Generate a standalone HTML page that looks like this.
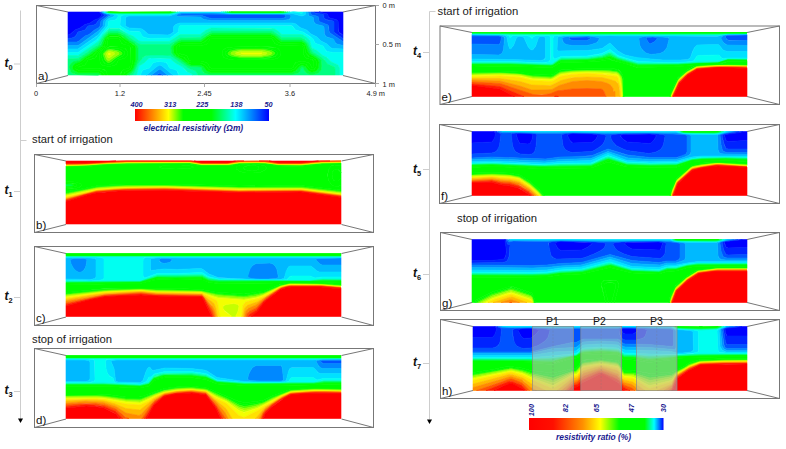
<!DOCTYPE html><html><head><meta charset="utf-8"><style>html,body{margin:0;padding:0;background:#fff;}svg{display:block;}</style></head><body>
<svg width="786" height="449" viewBox="0 0 786 449" font-family='"Liberation Sans", sans-serif'>
<rect width="786" height="449" fill="#fff"/>
<g transform="translate(68 12)"><path fill="#0000ff" stroke="#0000ff" stroke-width="0.6" fill-rule="evenodd" d="M1 0 31.5 0 34 3 32.5 5 31 6.5 26.5 8 22 11 17 12.5 12 16 7 18 2.5 22 0 23 0 0ZM251 0 275 0 275 23 271 20 270 9 268 7.5 262 6 260.5 5 259.5 2Z"/><path fill="#0023ff" stroke="#0023ff" stroke-width="0.6" fill-rule="evenodd" d="M32 0 37 3 30 9 28 12 26 13 20 14 17 18 10 20 8 23.5 6.5 25 4 26 0 26.5 0 23 2.5 22 7 18 12 16 17 12.5 22 11 26.5 8 31.5 6 34 3 31.5 0ZM246 0 251 0 259 2 260 3 260.5 5 262 6 268 7.5 270 9 270.5 10 270.5 19 271.5 21 275 23 275 26.5 269 22.5 266 20 266 10 265 9 258 7.5 256 6 255.5 3 255 2.5 247 1Z"/><path fill="#0053ff" stroke="#0053ff" stroke-width="0.6" fill-rule="evenodd" d="M33 0 40.5 3 33 9 32 14 31 15.5 26.5 18 21 22.5 17 24 11 29 9 30 0 30 0 26.5 4 26 6.5 25 8 23.5 10 20 17 18 20 14 26 13 28 12 30 9 37 3 33.5 1 32.5 0ZM243 0 246 0 248 1.5 254 2 255.5 3 256 6 257 7 259 8 265 9 266 10 266 20 269 22.5 275 26.5 275 29.5 262 21 261 19 261 15 260 13 252 10 251 9 250.5 5 248.5 4 244 3 243 2 242.5 0ZM114 2 213 2.5 217 3 217.5 4 217.5 5 216 6 213 6.5 144 6.5 141 6 134 3.5 112.5 3 113 2ZM90 62 92 61 94.5 63 89 63Z"/><path fill="#0088ff" stroke="#0088ff" stroke-width="0.6" fill-rule="evenodd" d="M34 0 37 1.5 41 2 43.5 3 40 5 35.5 9 35 14 31 18.5 11 33 9 33.5 0 33.5 0 30 9 30 11 29 17 24 21 22.5 26.5 18 31 15.5 32 14 33 9 40.5 3 35 1 33.5 0ZM240 0 242.5 0 243 2 244 3 248.5 4 250.5 5 251 9 252.5 10 260 13 260.5 14 261 19 262 21 275 29.5 275 33.5 269 32 267.5 31 265 27 258 24.5 256.5 22 256 15 255 14 249 12.5 247 11.5 245.5 9 245.5 6 244.5 5 241 4 240.5 3ZM110 2 113 1 150 1 163 2 215 2 221 2.5 222.5 3 223 4 222.5 6 221 7.5 215 8.5 143 8.5 136 7.5 132 5 110 4.5 109 4 108 3ZM113.5 2 112.5 3 134 3.5 141 6 144 6.5 213 6.5 216 6 217.5 5 217.5 4 217 3 213 2.5ZM90 58 92 57 93 57.5 99.5 63 94.5 63 92 61 91 61 89 63 83.5 63Z"/><path fill="#00b9ff" stroke="#00b9ff" stroke-width="0.6" fill-rule="evenodd" d="M35 0 38 1 44.5 2 47 3 45 5 41 6.5 38 9 37.5 14 30 23 10 37 0 37 0 33.5 9 33.5 11 33 31 18.5 35 14 35.5 9 40 5 43.5 3 41 2 37 1.5 34 0ZM111 1 151 0.5 163 1.5 224 1.5 234 4 236.5 3 237.5 2 237.5 0 240 0 240.5 3 241 4 244.5 5 245.5 6 245.5 9 247 11.5 249 12.5 255 14 256 15 256 21 257.5 24 260 25.5 265.5 27 267.5 31 269 32 275 33.5 275 37 264 36.5 262 35 259 32 253 29 249 25 243 22 238.5 18 232 15.5 228 12 224 11 112 11 109 12 107 13 105.5 15 105.5 20 102 22.5 100 23 82 22.5 80 22 76 18.5 74 17 71 16.5 61 16 57.5 14 57.5 13 57.5 6 58 5 60 4 101 4ZM109.5 2 108 3 109 4 111 5 132 5 136 7.5 143 8.5 215 8.5 221 7.5 222.5 6 223 4 222.5 3 221 2.5 215 2 163 2 143 1 113 1ZM90 53.5 92 53 94 54 105 63 99.5 63 92 57 90 58 83.5 63 78.5 63Z"/><path fill="#00e1ff" stroke="#00e1ff" stroke-width="0.6" fill-rule="evenodd" d="M36 0 40 1.5 47.5 2 50 3 50 5 48.5 7 47 8 41 9 40.5 10 40 14 29 27.5 10 40.5 0 40.5 0 37 10 37 29 24 37.5 14 38 9 41 6.5 45 5 47 3 44.5 2 38 1 35 0ZM109 1 111.5 0 153 0 163 1.5 213 1.5 220.5 1 225 0 230 0.5 234 1.5 234.5 0 237.5 0 237.5 2 236.5 3 234 4 224 1.5 164 1.5 152 0.5 114 0.5 112 0.5 101 4 61 4 58 5 57.5 6 57.5 13 57.5 14 61 16 71 16.5 74 17 76 18.5 80 22 82 22.5 100 23 102 22.5 105.5 20 105.5 15 107 13 109 12 112 11 224 11 228 12 232 15.5 238.5 18 243 22 249 25 253 29 259 32 262 35 264 36.5 275 37 275 40.5 265 40.5 259 39.5 257.5 38 255 34 248 31.5 247 31 245 27 241.5 24 235 20 227.5 18 224.5 14 223 13.5 113 13.5 111.5 14 111 15 110.5 20 102 26 83 26.5 79 26 75.5 25 74 24 72 20 71 19.5 61 19 54 15 52 13 52.5 5 53 4 55 3 62 2.5 101 2.5ZM88 50 93 49.5 98 50.5 99.5 52 101.5 56 107 57.5 109 59 110.5 63 105 63 94 54 92 53 89 54.5 78.5 63 72.5 63 73.5 60 75 58 81.5 56 85 51Z"/><path fill="#00fff1" stroke="#00fff1" stroke-width="0.6" fill-rule="evenodd" d="M37 0 41 1 52 2 101 2 111.5 0 101 2.5 61 3 56 3 53 4 52 6 52 13 52.5 14 61 19 72 20 75 25 81 26.5 102 26 110.5 20 111 15 111.5 14 113 13.5 224 14 227.5 18 235 20 244 26 245 27 247 31 248 31.5 255 34 257.5 38 259 39.5 265 40.5 275 40.5 275 63 271.5 63 271.5 56 270 53 268 52 263.5 50 259 45.5 254 43 249 38.5 245 36.5 243.5 35 241.5 28 236 23.5 233 22.5 214 22.5 208 17.5 203 16 143 16 138 18 132 22.5 112 22.5 101 29.5 83 29.5 72 29.5 69.5 28 65 24 61 22.5 52 16.5 50 16 42 16 40 17 35.5 22 30 30 11 43 9 43.5 0 43.5 0 40.5 10 40.5 29 27.5 40 14 40.5 10 41 9 47 8 48.5 7 50 5 50 3 47.5 2 40 1.5 36 0ZM154 0 166 1 214 1 222 0 234.5 0 234 1.5 230 0.5 226 0 214 1.5 165 1.5 158.5 1 153 0ZM80 47 83 46 102 46.5 108 51.5 112 53.5 114.5 55 118 59 123 61.5 125 63 110.5 63 110 60 108 58 101.5 56 99.5 52 98 50.5 92 49.5 88 50 85 51 81.5 56 76 57.5 74 59 72.5 63 68.5 63 71 54 76 51Z"/><path fill="#00ffb8" stroke="#00ffb8" stroke-width="0.6" fill-rule="evenodd" d="M37 0 41 1 52 1.5 101 1.5 110 0 101 2 52 2 41 1ZM156 0 166 1 213 1 222 0 216 1 207 1 163 1 155 0ZM41 16.5 51 16.5 61 22.5 65 24 71 29 74 29.5 101 29.5 112 22.5 132 22.5 138 18 143 16 205 16.5 208 17.5 214 22.5 233 22.5 235 23 238 25 241.5 28 243.5 35 245 36.5 249 38.5 254 43 259 45.5 263.5 50 268 52 270 53 271.5 56 271.5 63 267 63 267 57 266.5 55 259.5 52 256.5 48 253 45 245 40 243 37 240 30.5 237 27.5 233 25.5 214 25.5 209 21.5 203 19 143 19 137 22 132 25.5 112 26 101 32.5 74 32.5 71 32 57 22 52 19.5 50 19 42 19 40 19.5 36 23.5 30 33 24 36.5 19 40.5 10 46.5 0 47 0 43.5 10 43.5 29 30.5 31 28.5 35 22.5ZM81 43 100 43 102 43.5 121 56.5 127.5 59 129 61 130 63 125 63 123 61.5 119 59.5 114.5 55 112 53.5 108 51.5 102 46.5 92 46 82 46 80 47 76 51 71 54 68.5 63 64.5 63 67 59.5 70 52 75 45.5 77.5 44Z"/><path fill="#00ff80" stroke="#00ff80" stroke-width="0.6" fill-rule="evenodd" d="M38 0 53 1 101 1 108 0 101 1.5 52 1.5 41 1ZM158 0 166 0.5 213 0.5 220 0 215 1 207 1 164 1 157 0ZM42 19 50 19 52 19.5 57 22 71 32 74 32.5 101 32.5 112 26 132 25.5 137 22 143 19 204 19 209.5 22 214 25.5 233 25.5 237 27.5 240 30.5 243 37 245 40 253 45 256.5 48 259.5 52 266.5 55 267 57 267 63 130 63 129 61 127.5 59 121 56.5 102 43.5 95 43 82 43 77 44 75 45.5 70 52 67 59.5 65 62.5 64.5 63 61 63 64 60.5 65.5 58 70 48 70 35 69 33.5 67 31.5 61 28 55 23 51 21 47 21 42 21 40 21.5 36 26 32 34 25.5 38 20.5 42 15.5 45 11 48.5 3.5 51 1.5 54 1.5 56 2.5 59 4 61 6 62 10 62.5 30.5 63 0 63 0 47 10 46.5 19 40.5 24 36.5 30 33 36 23.5 40 19.5ZM140.5 22 132 28 113 28 110 29 106 31.5 103.5 34 103 36 103.5 41 106 44 112.5 48 119 53 123 54.5 132.5 55 133.5 56 134.5 59 136 60.5 138 61.5 142 62.5 224 62.5 230 61 231.5 60 233 56 234 55.5 235.5 56 236.5 59 238.5 61 242 62.5 245 62.5 250.5 61 253 58 253.5 54 253 48 249.5 45 243 41 239 32 237 30 234 28 214 28 207.5 23 203 21 144 21Z"/><path fill="#00ff40" stroke="#00ff40" stroke-width="0.6" fill-rule="evenodd" d="M39 0 53 0.5 101 0.5 106.5 0 101 1 53 1 41 0.5ZM159 0 166 0.5 218 0 207 0.5 164 0.5ZM40 21.5 42 21 50 21 52 21.5 56.5 24 61 28 66.5 31 69.5 34 70 36 70 48 66 57.5 64 60.5 61 63 58 63 63 59 65 55 67.5 48 67.5 35 66 33 59 28.5 54 24.5 51 23 49 23 42 23 40 23.5 37 27 34.5 34 22 43 17 46 12 50 6 53 4.5 55 4.5 56 5.5 58 10 60.5 30 60.5 32 61.5 33.5 63 10 62.5 5 61.5 3 60 1.5 56 1.5 54 3 51.5 5 50 11 48.5 15.5 45 20.5 42 25.5 38 31 34.5 33 32.5 36 26ZM141 22 144 21 203 21 207.5 23 214 28 234 28 237 30 239 32 243 41 249.5 45 253 48 253.5 54 253 58 250.5 61 245 62.5 242 62.5 238.5 61 236.5 59 235.5 56 234 55.5 233 56 231.5 60 230 61 224 62.5 142 62.5 138 61.5 136 60.5 134.5 59 133.5 56 132.5 55 123 54.5 119 53 112.5 48 106 44 103.5 41 103 36 103.5 34 106 31.5 110 29 113 28 132 28ZM142.5 23 139 25 134 29 132 30 113 30 111 30.5 106 34 105.5 36 106 41 108 43.5 114 47 121 52 123 53 133 53 135.5 55 139 59 143 60.5 224 60.5 228 58.5 231 55 234 53 237 54.5 241 59 243 60 245 60 248 59 250.5 56 251 50 250 48 248 46 241.5 42 240 40 237.5 33 236 31 234 30 214 30 212 29 206 24 203 23Z"/><path fill="#00ff00" stroke="#00ff00" stroke-width="0.6" fill-rule="evenodd" d="M40 0 53 0.5 104.5 0 101 0.5 53 0.5ZM161 0 166 0 216 0 207 0.5ZM41 23 50 23 52 23.5 67 34 67.5 36 67.5 48 65 56 63 59 58 63 55 63 57 60.5 62 57.5 63.5 55 65 48 65 35 63 33 57 30 52 25 49 24.5 42 24.5 40 25.5 38.5 27 36.5 34 28.5 40 24.5 44 19 46.5 14.5 51 9 53.5 7 55 7 56 8 57 11 58.5 31 58.5 34 60 36.5 63 33.5 63 32 61.5 30 60.5 10 60.5 5.5 58 4.5 56 5 54 7 52 12 50 17 46 22 43 34.5 34 37 27 39 24.5ZM143 23 203 23 206 24 212 29 214 30 234 30 236 31 237.5 33 240 40 241.5 42 248 46 250 48 251 50 250.5 56 248 59 245 60 243 60 241 59 237 54.5 234 53 231 55 228 58.5 224 60.5 143 60.5 139 59 135.5 55 133 53 123 53 121 52 114 47 108 43.5 106 41 105.5 36 106 34 111 30.5 113 30 132 30 134 29 139 25ZM142 25 136.5 30 133 31.5 111.5 32 109 34 108.5 35 108.5 41 111 43.5 116 45.5 121 50.5 123 51 132 51 134 51.5 137 53 140.5 57 143 58.5 223 58.5 226.5 57 230 53 234 51 238 52.5 242 57 244 58 246 57.5 248 55 248.5 50 247.5 48 245 46 241 44.5 239 42.5 237.5 40 236.5 34 234 32 213 31.5 210 30 206 26 203 24.5 145 24.5Z"/><path fill="#00ff00" stroke="#00ff00" stroke-width="0.6" fill-rule="evenodd" d="M42 0 43 0 103 0 53 0.5 41.5 0ZM164 0 165 0 213.5 0 207 0 163 0ZM41 25 51 25 53 26 57 30 62 32 64.5 34 65 36 65 48 63.5 55 62 57.5 57 60.5 55 63 52.5 63 54 59 56 57.5 61 56 61.5 55 62.5 48 62.5 36 61.5 34 55 32 53.5 31 51.5 27 49 26.5 41 26.5 40 28 39 34 31 40 27 46 20 48 17 53 10.5 55 10.5 56 11 56 30 56.5 34 57 38 59 39.5 63 36.5 63 34 60 31 58.5 11 58.5 8 57 7 56 7 55 8 54 14 51 18.5 47 24.5 44 28.5 40 36.5 34 38.5 27ZM142 25 145 24.5 203 24.5 206 26 210 30 213 31.5 234 32 236.5 34 237.5 40 239 42.5 241 44.5 245 46 247.5 48 248.5 50 248 55 246 57.5 244 58 242 57 238 52.5 234 51 230 53 226.5 57 223 58.5 143 58.5 140.5 57 137 53 134 51.5 132 51 123 51 121 50.5 116 45.5 111 43.5 108.5 41 108.5 35 109 34 111.5 32 133 31.5 136.5 30ZM142 27 140 31 138 32.5 136 33 132 33.5 112 33.5 111 35 111 41 112.5 42 117 43 119 44 121 48 122.5 49 133 49 138 50.5 140 52 142 55.5 144 56.5 223 56.5 225 55.5 226.5 52 228 50.5 234 49 240 50.5 242 52 244 55.5 245.5 55 245.5 49 244 47.5 239 46.5 237 45 235.5 42 235 35 234 34 214 33.5 210 33 207 31.5 204 27 203 26.5 145 26.5Z"/><path fill="#00ff00" stroke="#00ff00" stroke-width="0.6" fill-rule="evenodd" d="M41 26.5 51 26.5 52 28 53.5 31 55 32 61 33.5 62 34.5 62.5 48 62 54 61 56 55 58 53 60 52.5 63 39.5 63 38 59 36 57.5 34 57 30 56.5 10.5 56 10.5 55 17 53 20 48 26 46.5 28 45 29.5 42 31 40 39 34 40 28ZM40.5 35 34 39 31.5 42 32 50 33 52 35 53.5 41 54.5 46 53.5 48.5 52 50.5 48 57 46 59 44 59.5 42 59.5 40 58.5 38 57 36.5 51 35 42 34.5ZM143 26.5 203 26.5 204 27 207 31.5 210 33 214 33.5 234 34 235 35 235.5 42 237 45 239 46.5 244 47.5 245.5 49 245.5 55 244 55.5 242 52 240 50.5 234 49 228 50.5 226.5 52 225 55.5 223 56.5 144 56.5 142 55.5 140 52 138 50.5 133 49 122.5 49 121 48 119 44 117 43 112.5 42 111 41 111 35 112 33.5 132 33.5 136 33 139 32 142 27ZM164.5 35 158 36 155 38 154.5 40 154 42 156 45.5 160 47 166 48 203 47.5 207 47 210 46 212 44 212.5 42 212 39 210.5 37 208.5 36 205 35 193 34.5Z"/><path fill="#00ff00" stroke="#00ff00" stroke-width="0.6" fill-rule="evenodd" d="M41 35 52 35 57 36.5 58.5 38 59.5 40 59.5 42 59 44 57 46 50.5 48 48.5 52 46 53.5 41 54.5 35 53.5 33 52 32 50 31.5 42 33 40 35 38ZM39 37 34 40.5 33 43 35 49.5 37 51.5 40 52.5 42 52.5 44 51.5 49 47 55 44 56.5 42 57 41 56 39.5 52 37 42 36ZM165 35 193 34.5 206 35.5 209 36 211 37.5 212.5 40 212.5 42 212 44 210 46 207 47 203 47.5 166 48 160 47 156 45.5 154 42 154.5 40 155 38 158 36ZM172.5 36 164 37 161 37.5 157.5 40 157 42 159 44 163 45.5 177 46.5 194 46.5 203 46 207 44.5 209.5 42 209 40 208 39 203 37 193 36Z"/><path fill="#00ff00" stroke="#00ff00" stroke-width="0.6" fill-rule="evenodd" d="M173 36 193 36 203 37 208 39 209 40 209.5 42 207.5 44 204 45.5 190 46.5 173 46.5 164 46 160 44.5 157 42 157.5 40 161 37.5 164 37ZM166.5 38 161 40 160 41 160 42 163 44 172 45.5 193 45.5 203.5 44 206 42.5 207 41 205 39.5 203 38.5 194 37 174 37ZM39 37 42 36 52 37 56 39.5 57 41 56.5 42 55 44 49 47 44 51.5 42 52.5 40 52.5 37 51.5 35 49.5 33 43 33.5 41 34.5 40ZM39 38 36.5 40 35 42 37 48 40 50.5 42.5 50 47.5 46 54 42 54 41 53 40 50 38.5 42 37Z"/><path fill="#4bff00" stroke="#4bff00" stroke-width="0.6" fill-rule="evenodd" d="M40 37.5 43 37.5 51 39 53 40 54 41 54 42 47.5 46 42.5 50 40 50.5 37 48 35 42 36.5 40ZM39.5 39 37 41 36.5 42 38.5 47 40 48.5 41 48.5 51 42 51 41 49.5 40 44 38.5 41 38.5ZM167 38 174 37 194 37 203 38.5 205 39.5 207 41 206 42.5 203.5 44 193 45.5 172 45.5 163 44 160 42 160 41 162 39ZM168.5 39 164 40 163 41 163 42 167 43.5 173 44.5 193 44.5 201 43 203.5 42 204 41 201 39.5 193 38 174 38Z"/><path fill="#96ff00" stroke="#96ff00" stroke-width="0.6" fill-rule="evenodd" d="M40 38.5 42 38.5 45.5 39 49.5 40 51 41 51 42 41 48.5 40 48.5 38.5 47 36.5 42 37 41ZM40 40 38.5 42 39.5 45 41 46 46.5 42 46.5 41 44 40 41 39.5ZM169 39 174 38 193 38 201 39.5 204 41 203.5 42 201 43 193 44.5 173 44.5 167 43.5 163 42 163 41 164 40ZM170 40 167.5 41 168 42 174 43.5 193 43.5 198.5 42 199 41 193 39.5 174 39.5Z"/><path fill="#c5ff00" stroke="#c5ff00" stroke-width="0.6" fill-rule="evenodd" d="M40 40 41 39.5 44 40 46.5 41 46.5 42 41 46 39.5 45 38.5 42 38.5 41ZM41 41 40.5 42 41 43 42.5 42ZM171 40 174 39.5 193 39.5 199 41 198.5 42 195 43 190 43.5 173 43 168 42 167.5 41ZM172.5 41 174 41.5 177 42 192 42 194 41Z"/><path fill="#f3ff00" stroke="#f3ff00" stroke-width="0.6" fill-rule="evenodd" d="M41 41 42.5 42 41 43 40.5 42ZM173 41 192 41 194 41 192 42 176 42 174 41.5Z"/></g>
<g transform="translate(66 161)"><path fill="#00ff40" stroke="#00ff40" stroke-width="0.6" fill-rule="evenodd" d="M1 23 5.5 23 7.5 24 7 25 5 25.5 0 25.5 0 23Z"/><path fill="#00ff00" stroke="#00ff00" stroke-width="0.6" fill-rule="evenodd" d="M181 5 185 4.5 189 4.5 192 5.5 193 7 192.5 8 190 9.5 186 10 182 9.5 179 8.5 177.5 7 178 6ZM268 9 270 8 272 8.5 275 11.5 275 17 272 20 269 20 267.5 19 266.5 17 266 13 266.5 11ZM1 22 8 22.5 10 23 11 24 10.5 25 8 26 0 26.5 0 25.5 5 25.5 7 25 7.5 24 5 23 0 23 0 22Z"/><path fill="#00ff00" stroke="#00ff00" stroke-width="0.6" fill-rule="evenodd" d="M174 4 185 3 195 4 199 5 200.5 7 199 9 194 11.5 187 12 180 12 174 10.5 170.5 8 170.5 6 171.5 5ZM180 5 178 6 177.5 7 179 8.5 182 9.5 186 10 190 9.5 192.5 8 193 7 192 5.5 189 4.5 184 4.5ZM268 4 275 4.5 275 11.5 273 9 270 8 267 10 266 13 266.5 17 267.5 19 269 20 272 20 275 17 275 24 272 25.5 269 25.5 266 24 263.5 21 262 17 262 12 263 8 265 5ZM96 5 105 4 115 4 125 5 127.5 6 125.5 7 122 7.5 110 8 98 7.5 95 7 93 6ZM1 20.5 7 20.5 12 21.5 15 23 15.5 24 15 25 13 26.5 9 27.5 0 28 0 26.5 8 26 10.5 25 11 24 10 23 7 22 0 22 0 20.5Z"/><path fill="#00ff00" stroke="#00ff00" stroke-width="0.6" fill-rule="evenodd" d="M81 3 124 3 136 5 159 5 163 5 172 3 188 2.5 200.5 3 213 5 234 5.5 256 3 275 3 275 4.5 269 4 267 4 265 5 262.5 9 261.5 14 262.5 19 265 23 267 24.5 270 25.5 272 25.5 275 24 275 29 235 24.5 173 25 125 23.5 62 23 32 24.5 15 28 0 30.5 0 28 6 28 11 27 14 26 15 25 15.5 24 14 22.5 11 21.5 6 20.5 0 20.5 0 6 22 5.5 42 3.5ZM174 4 170.5 6 170.5 8 174 10.5 180 12 187 12 194 11.5 199 9 200.5 7 199 5 195 4 185 3ZM95.5 5 93 6 95 7 98 7.5 110 8 122 7.5 125.5 7 127.5 6 125 5 115 4 104 4.5Z"/><path fill="#00ff00" stroke="#00ff00" stroke-width="0.6" fill-rule="evenodd" d="M42 3 124 2.5 136 4.5 160 4.5 173 2.5 187 2 200 2.5 213 4.5 234 4.5 255 2.5 275 2.5 275 3 256 3 235 5.5 213 5 200.5 3 189 2.5 172 3 163 5 158 5 136 5 125 3 99 3 42 3.5 22 5.5 0 6 0 5.5 24 4.5ZM42 24 60 23 98 23 127 23.5 173 25 235 24.5 275 29 275 30 235 25.5 173 26 97 24 60 24 36 25 31 25.5 0 31.5 0 30.5 15 28 32 24.5Z"/><path fill="#00ff00" stroke="#00ff00" stroke-width="0.6" fill-rule="evenodd" d="M78 2 124 2 136 4 154 4 162 4 174 2 197.5 2 213 4 234 4 256 2 273 2 275 2 275 2.5 255 2.5 234 4.5 213 4.5 200 2.5 188 2 173 2.5 159 4.5 136 4.5 124 2.5 61 2.5 41.5 3 24 4.5 0 5.5 0 5 21 4.5 42 2.5ZM67 24 99 24 173 26 235 25.5 275 30 275 30.5 235 26 173 26.5 97 24.5 60 24.5 40 25.5 31 26.5 0 32.5 0 31.5 32 25.5Z"/><path fill="#4bff00" stroke="#4bff00" stroke-width="0.6" fill-rule="evenodd" d="M55 2 124 1.5 136 3.5 160 3.5 173 2 191 1.5 201 2 213 3.5 234 4 256 2 275 1.5 256 2 234 4 213 4 200 2 192 2 173 2 163 4 159 4 136 4 124 2 61 2 41 3 20 4.5 0 5ZM53 25 98 24.5 173 26.5 235 26 275 30.5 275 31.5 235 27 173 27 99 25 62 25 31 27 0 33.5 0 32.5 31 26.5Z"/><path fill="#96ff00" stroke="#96ff00" stroke-width="0.6" fill-rule="evenodd" d="M48 2 61 1.5 124 1.5 136 3.5 160 3.5 173 1.5 190 1.5 200 1.5 213 3.5 234 3.5 256 1.5 275 1.5 255 2 234 4 213 3.5 201 2 192 1.5 173 2 163 3.5 158 3.5 136 3.5 124 1.5 61 2 41 2.5 20 4 0 4.5ZM44 26 61 25 98 25 173 27 235 27 275 31.5 275 32 235 27.5 173 27.5 99 25.5 62 26 42 26.5 31 27.5 0 34 0 33.5 31 27Z"/><path fill="#c5ff00" stroke="#c5ff00" stroke-width="0.6" fill-rule="evenodd" d="M42 2 61 1.5 124 1 136 3 160 3 173 1.5 189 1 200 1.5 213 3 234 3.5 256 1.5 275 1 255 1.5 234 3.5 213 3.5 199 1.5 173 1.5 162 3.5 156 3.5 136 3.5 124 1.5 61 1.5 42 2 20 4 0 4.5ZM57 26 99 25.5 173 27.5 235 27.5 275 32 275 33 235 28 173 28.5 99 26 61 26.5 31 28.5 0 35 0 34 31 27.5Z"/><path fill="#f3ff00" stroke="#f3ff00" stroke-width="0.6" fill-rule="evenodd" d="M77 1 124 1 136 3 150 3 162 3 173 1 199 1 213 3 234 3 256 1 271 1 275 1 256 1.5 234 3.5 213 3 199 1.5 173 1.5 162 3 155 3 136 3 124 1 61 1.5 42 2 20 3.5 0 4 21 3.5 42 1.5 60 1ZM48 27 61 26.5 98 26 173 28.5 235 28 275 33 275 33.5 235 28.5 173 29 99 26.5 61 27 31 29 0 36 0 35 31 28.5Z"/><path fill="#ffe100" stroke="#ffe100" stroke-width="0.6" fill-rule="evenodd" d="M56 1 124 0.5 136 2.5 159 2.5 163 2.5 173 1 199 1 213 3 234 3 256 1 275 0.5 256 1 234 3 213 3 199 1 173 1 162 3 155 3 136 3 124 1 61 1 41 2 20 3.5 0 4ZM59 27 99 26.5 173 29 235 28.5 275 33.5 275 34 235 29 173 29.5 99 27 61 27.5 31 29.5 0 37 0 36 31 29Z"/><path fill="#ffb900" stroke="#ffb900" stroke-width="0.6" fill-rule="evenodd" d="M50 1 61 0.5 124 0.5 136 2.5 160 2.5 173 0.5 199 0.5 213 2.5 234 2.5 255 0.5 275 0.5 256 1 235 3 213 3 199 1 173 1 162 2.5 143 2.5 135 2.5 125 0.5 97 0.5 59 1 20 3 0 3.5ZM49 28 61 27.5 98 27 173 29.5 235 29 275 34 275 34.5 235 29.5 173 30 99 27.5 61 28 31 30 0 38 0 37 31 29.5Z"/><path fill="#ff8b00" stroke="#ff8b00" stroke-width="0.6" fill-rule="evenodd" d="M44 1 61 0.5 124 0.5 136 2 160 2 172 0.5 191 0 201 0.5 213 2.5 234 2.5 255 0.5 275 0 255 0.5 235 2.5 213 2.5 199 0.5 173 0.5 162 2.5 147 2.5 135 2.5 125 0.5 87 0.5 58 0.5 20 3 0 3.5ZM59 28 99 27.5 173 30 235 29.5 275 34.5 275 35 235 30 173 30.5 98 28 61 28.5 31 30.5 0 38.5 0 38 31 30Z"/><path fill="#ff5600" stroke="#ff5600" stroke-width="0.6" fill-rule="evenodd" d="M40 1 60 0 124 0 128 0.5 136 2 160 2 172 0 192.5 0 202 0 213 2 235 2 255 0 275 0 255 0.5 234 2.5 213 2.5 199 0.5 173 0.5 162 2 155 2 136 2 125 0.5 60 0.5 21 2.5 0 3 0 2.5 24 2ZM49 29 61 28.5 98 28 173 30.5 235 30 275 35 275 35.5 235 30.5 173 31 99 28.5 61 29 31 31 18.5 34 0 39.5 0 38.5 30 30.5Z"/><path fill="#ff1e00" stroke="#ff1e00" stroke-width="0.6" fill-rule="evenodd" d="M33 1 50 0 128 0 136 1.5 160 1.5 169.5 0 178 0 171 0 161 2 136 2 125 0 61 0 44 0.5 24 2 0 2.5 0 2 20 2ZM193 0 203 0 213 1.5 234 1.5 252.5 0 264 0 254 0 234 2 213 2 202 0ZM59 29 99 28.5 173 31 235 30.5 275 35.5 275 36.5 235 31 173 31.5 98 29.5 60 29.5 40 30.5 30 32 21 34 0 40.5 0 39.5 18.5 34 31 31Z"/><path fill="#ff0000" stroke="#ff0000" stroke-width="0.6" fill-rule="evenodd" d="M1 0 2 0 50 0 20 2 0 2 0 0ZM128 0 129 0 169.5 0 162 1.5 151 1.5 136 1.5ZM204 0 205 0 252.5 0 234 1.5 213 1.5 203 0ZM52 30 98 29.5 173 31.5 235 31 272 36 275 36.5 275 63 0 63 0 40.5 21 34 30 32Z"/></g>
<g transform="translate(66 253.5)"><path fill="#0088ff" stroke="#0088ff" stroke-width="0.6" fill-rule="evenodd" d="M8 5 16 5 18.5 5 21 6 20.5 10 19.5 14 17.5 17 15 19 13 19 10 17.5 8 15.5 6 12.5 4.5 9 4 6ZM95 5 103.5 5 106.5 6 105 8 103.5 9 98 10 95 9 93 7 93 6ZM252 5 275 4.5 275 11.5 256 11.5 254 10.5 249.5 6ZM190 10 204 9.5 207 10.5 209.5 13 211 16 212.5 24 210 25 202 25.5 189 25.5 185.5 25 182 24 181.5 23 182 21 184 15 186.5 12Z"/><path fill="#00b9ff" stroke="#00b9ff" stroke-width="0.6" fill-rule="evenodd" d="M6 4 20.5 4 29 5 30 6 30 7 30 23 29 25 24 26 0 25.5 0 4.5ZM7.5 5 4 6 5 10 7 14 9 16.5 12 18.5 14 19 16 18 18 16.5 19.5 14 20.5 10 21 6 18.5 5 15 4.5ZM94 4 243 4.5 275 4 275 4.5 253 5 251.5 5 249.5 6 254 10.5 256 11.5 275 11.5 275 18.5 253 18.5 251 17.5 245 12.5 225 12.5 223 13 221.5 15 218 25 212.5 26 191 26 152 24 143 20.5 137 16 135 15 111 16 98 15.5 85 17 84.5 15 84.5 6 85.5 5ZM94.5 5 93 6 93.5 8 95 9 98 10 103.5 9 105 8 106.5 6 103.5 5ZM190 10 186.5 12 184 15.5 182 22 182 24 185.5 25 194 25.5 207 25.5 210 25 212.5 24 211 16 209.5 13 207 10.5 204 9.5Z"/><path fill="#00e1ff" stroke="#00e1ff" stroke-width="0.6" fill-rule="evenodd" d="M1 3.5 30 3.5 35 4 38 5 38 25 37 26 33 27 25 27.5 0 26.5 0 25.5 25 26 29 25 30 23 30 7 30 6 29 5 16 4 0 4.5 0 3.5ZM80 4 98 3.5 275 3.5 275 4 244 4.5 112 4.5 97 4 85.5 5 84.5 6 84.5 8 84.5 16 85 17 98 15.5 111 16 135 15 137 16 143 20.5 153 24.5 190 26 215 26 218 25 218.5 24 220 18 222 14 224 12.5 226 12.5 245 12.5 251 17.5 253 18.5 275 18.5 275 23.5 256 23.5 249 24.5 244 22.5 225 22.5 224 23 221 26 217 26.5 191 26.5 174 26.5 152 25.5 142 23 137 19.5 135 19 112 20 91 20 80 24 78 24 77 22 77 6 77.5 5Z"/><path fill="#00fff1" stroke="#00fff1" stroke-width="0.6" fill-rule="evenodd" d="M1 3 275 3 275 3.5 244 3.5 91 3.5 79 4 77.5 5 77 8 77 22 78 24 80 24 91 20 112 20 135 19 137 19.5 143 23.5 154 25.5 190 26.5 215 26.5 221 26 224 23 226 22.5 244 22.5 249 24.5 256 23.5 275 23.5 275 25.5 256 25.5 245 27 214 27 153 26.5 143 24.5 137 21.5 135 21 111 21.5 91 21.5 76.5 27 74 27.5 41 27.5 24 28 0 27.5 0 26.5 24 27.5 32.5 27 37 26 38 24 38 5 35 4 29 3.5 0 3.5 0 3Z"/><path fill="#00ffb8" stroke="#00ffb8" stroke-width="0.6" fill-rule="evenodd" d="M1 2.5 275 2.5 275 3 0 3 0 2.5ZM131 21 136 21 143 24.5 153 26.5 190 27 244 27 257 25.5 275 25.5 275 26.5 256 26 244 27.5 153 27 143 25.5 137 22.5 135 22 110 22.5 91 22.5 74 28 24 28.5 0 28.5 0 27.5 24 28 41 27.5 74 27.5 76.5 27 91 21.5 110 21.5Z"/><path fill="#00ff80" stroke="#00ff80" stroke-width="0.6" fill-rule="evenodd" d="M1 2 275 2 275 2.5 0 2.5 0 2ZM132 22 136 22 143 25.5 153 27 245 27.5 257 26 275 26.5 275 27 256 27 244 28 153 27.5 143 26.5 137 23.5 135 23 110 23.5 91 23.5 74 28.5 0 29 0 28.5 24 28.5 74 28 91 22.5 110 22.5Z"/><path fill="#00ff40" stroke="#00ff40" stroke-width="0.6" fill-rule="evenodd" d="M1 2 275 2 275 2 0 2 0 2ZM131 23 136 23 143 26.5 153 27.5 244 28 257 27 275 27 275 27.5 256 27.5 244 28 153 28.5 143 27.5 137 24.5 135 24 110 24.5 91 24 74 29 0 29.5 0 29 74 28.5 91 23.5 110 23.5Z"/><path fill="#00ff00" stroke="#00ff00" stroke-width="0.6" fill-rule="evenodd" d="M1 1.5 275 1.5 275 2 0 2 0 1.5ZM129 24 136 24 143 27.5 153 28.5 244 28 256 27.5 275 27.5 275 28.5 256 28 245 28.5 153 29 143 28 135 25 110 25.5 92 25 89 25.5 74 29.5 0 30.5 0 29.5 74 29 91 24 110 24.5Z"/><path fill="#00ff00" stroke="#00ff00" stroke-width="0.6" fill-rule="evenodd" d="M1 0.5 275 0.5 275 1.5 0 1.5 0 0.5ZM127 25 136 25 143 28 152 29 245 28.5 256 28 275 28.5 275 29.5 256 29 152 30 143 29 135 26 111 26.5 92 26 74 30 40 30.5 0 31.5 0 30.5 74 29.5 91 25 110 25.5Z"/><path fill="#00ff00" stroke="#00ff00" stroke-width="0.6" fill-rule="evenodd" d="M1 0 275 0 275 0.5 0 0.5 0 0ZM133 26 136 26 143 29 152 30 256 29 275 29.5 275 31 256 29.5 223 29.5 214 31 198 37.5 178 40.5 149 38.5 136 36 113 35 85 35 75 34.5 39 35 0 39 0 31.5 40 30.5 74 30 91 26 111 26.5Z"/><path fill="#00ff00" stroke="#00ff00" stroke-width="0.6" fill-rule="evenodd" d="M220 30 224 29.5 256 29.5 275 31 275 31.5 256 30.5 223 30 215 31.5 198 38.5 178 42 152 40 135 37 90 36 75 35 40 36 0 40 0 39 2 38.5 38 35.5 75 34.5 85 35 113 35 136 36 149 38.5 179 40.5 199 37 205 34.5 213 31.5Z"/><path fill="#00ff00" stroke="#00ff00" stroke-width="0.6" fill-rule="evenodd" d="M223 30 256 30.5 275 31.5 275 32 255 30.5 223 30.5 214 32.5 198 39.5 178 43 152 41 135 37.5 90 36.5 75 35.5 40 36.5 0 41 0 40 39 36 75 35 90 36 135 37 152 40 178 42 198 38.5 215 31.5Z"/><path fill="#4bff00" stroke="#4bff00" stroke-width="0.6" fill-rule="evenodd" d="M220 31 224 30 255 30.5 275 32 275 32.5 256 31 223 30.5 215 32.5 197 40.5 190 42.5 178 44 152 42 135 38 90 37 75 36 40 37.5 0 41.5 0 41 40 36.5 75 35.5 90 36.5 135 37.5 152 41 178 43 198 39.5 214 32.5Z"/><path fill="#96ff00" stroke="#96ff00" stroke-width="0.6" fill-rule="evenodd" d="M222 31 225 30.5 256 31 275 32.5 255 31.5 223 31 215 33 197 41.5 190 43.5 178 45.5 152 43.5 135 38.5 90 38 75 36.5 40 38 0 42.5 0 41.5 40 37.5 75 36 90 37 135 38 152 42 178 44 190 42.5 197 40.5 215 32.5Z"/><path fill="#c5ff00" stroke="#c5ff00" stroke-width="0.6" fill-rule="evenodd" d="M223 31 256 31.5 275 33 255 31.5 223 31.5 215 33 199 41.5 193 43.5 178 46.5 152 44.5 142 41.5 135 39 90 38.5 75 37 40 38.5 0 43.5 0 42.5 40 38 75 36.5 90 38 135 38.5 152 43.5 178 45.5 190 43.5 197 41.5 215 33ZM160 51 168 50 172 51 173 53 172.5 56 171 60.5 169.5 63 166 63 158 56.5 157 55 157 53 158 52Z"/><path fill="#f3ff00" stroke="#f3ff00" stroke-width="0.6" fill-rule="evenodd" d="M220 32 224 31 255 31.5 275 33.5 255 32 225 31.5 216 33 198 43 192 45.5 181 48 179 49 177 52 175.5 63 169.5 63 172 58 173 53 172 51 168 50 160 51 158 52 157 53 157 55 159 58 166 63 154 63 151.5 49 150.5 47 137 40 135 39.5 91 39 74 37.5 40 39 0 44.5 0 43.5 39 38.5 75 37 90 38.5 135 39 142 41.5 152 44.5 178 46.5 190 44.5 196 42.5 214 33.5Z"/><path fill="#ffe100" stroke="#ffe100" stroke-width="0.6" fill-rule="evenodd" d="M221 32 225 31.5 255 32 275 33.5 255 32 225 31.5 216 33.5 206 39 191 48.5 181 52 178.5 55 177 63 175.5 63 177 52 179 49 181 48 192 45.5 198 43 214 34ZM62 38 75 37.5 91 39 136 39.5 150.5 47 151.5 49 154 63 151.5 63 150 55 148 50 137 41 135 40 91 39.5 74 38 40 40 0 46 0 44.5 39 39Z"/><path fill="#ffb900" stroke="#ffb900" stroke-width="0.6" fill-rule="evenodd" d="M223 32 255 32 275 34 255 32.5 225 32 216 34 202.5 42 190 51.5 182 55 179.5 58 178.5 63 177 63 178.5 55 181 52 191 48.5 215 34ZM56 39 75 38 90 39.5 136 40.5 148 50 150 55 151.5 63 150 63 148 56 146 52 137 42 135 41 91 40.5 74 39 40 40.5 0 47.5 0 46 25 42 40 40Z"/><path fill="#ff8b00" stroke="#ff8b00" stroke-width="0.6" fill-rule="evenodd" d="M220 33 225 32 255 32.5 275 34 275 34.5 255 32.5 225 32.5 217 34 213 36 199.5 45 190 54.5 183 58 181 60 180 63 178.5 63 179.5 58 182 55 190 51.5 199.5 44 213.5 35ZM71 39 76 39 91 40.5 136 41 146.5 53 148.5 57 150 63 148.5 63 147 58 145.5 55 137 43 135 41.5 91 41 75 39.5 42 41.5 24 44.5 0 49.5 0 47.5 39 41Z"/><path fill="#ff5600" stroke="#ff5600" stroke-width="0.6" fill-rule="evenodd" d="M221 33 225 32.5 255 32.5 275 34.5 275 34.5 255 33 225 33 216 34.5 206.5 41 199 46.5 190 57 184 60.5 182 63 180 63 181 60 183 58 190 54.5 199.5 45 214.5 35ZM67 40 75 39.5 90 41 136 42 137 43 145.5 55 147 58 148.5 63 147 63 145 58 138 45 136.5 43 135 42.5 90 42 75 40.5 41 42 24 45.5 0 51 0 49.5 39 41.5Z"/><path fill="#ff1e00" stroke="#ff1e00" stroke-width="0.6" fill-rule="evenodd" d="M223 33 255 33 275 34.5 275 35.5 255 33.5 225 33.5 216.5 35 211.5 38 199 48 190 60 185.5 63 182 63 184 60.5 190 57 198 47.5 205 42 215.5 35ZM64 41 75 40.5 90 42 135 42.5 136.5 43 138 45 145 58 147 63 145.5 63 137 45 136 43.5 135 43.5 90 42.5 75 41.5 41 43 26 46 0 52.5 0 51 24 45.5 39 42.5Z"/><path fill="#ff0000" stroke="#ff0000" stroke-width="0.6" fill-rule="evenodd" d="M221 34 225 33.5 255 33.5 275 35.5 275 63 185.5 63 191 58.5 198 49 200 47 214.5 36ZM62 42 75 41.5 90 42.5 135 43.5 136 43.5 137 45 145.5 63 0 63 0 52.5 25 46 40 43Z"/></g>
<g transform="translate(66 355.5)"><path fill="#0053ff" stroke="#0053ff" stroke-width="0.6" fill-rule="evenodd" d="M256 5 275 5 275 8 257 8 254.5 6Z"/><path fill="#0088ff" stroke="#0088ff" stroke-width="0.6" fill-rule="evenodd" d="M251 5 257 4 275 4 275 5 256 5 254.5 6 257 8 275 8 275 13 256 13 254 12 252 9.5 250 6ZM190 10 215 10 216 11.5 216.5 14 217.5 24 216 25.5 212 25.5 190 25.5 184 25 181.5 24 182.5 19 184.5 15 186.5 12Z"/><path fill="#00b9ff" stroke="#00b9ff" stroke-width="0.6" fill-rule="evenodd" d="M250 4 275 3.5 275 4 256 4 251 5 250 6 253 11 256 13 275 13 275 18 254 18 252 17 249 13.5 247 12 226 12 224 13 223 14.5 220.5 24 220 25 218 26 214 26.5 188 26.5 178 26 151 22 141 15.5 138 14.5 125 13 99 12.5 87 15 86 14.5 84 12 83 11.5 81.5 13 80 16 77 25 74.5 27 52 26.5 50.5 26 49.5 25 48 13 45 6 45.5 5 50 4.5ZM190 10 186.5 12 184.5 15 182.5 19 181.5 24 184 25 194 25.5 215 25.5 217 25 217.5 24 216.5 14 216 11.5 215 10ZM1 4.5 19 4.5 23 5 24 7 24 23 23 25 20 26 0 26 0 4.5Z"/><path fill="#00e1ff" stroke="#00e1ff" stroke-width="0.6" fill-rule="evenodd" d="M1 3.5 22 3.5 27 4 28.5 5 29 24 28 26 21 27 0 27 0 26 20 26 23 25 24 23 24 7 23 5 19 4.5 0 4.5 0 3.5ZM42 4 50 3.5 275 3 275 3.5 256 3.5 247 4.5 51 4.5 46 5 45.5 5 45 6 48 13 49.5 25 50.5 26 52 26.5 74.5 27 77 25 80 16 81.5 13 83 11.5 84 12 86 14.5 87 15 99 12.5 125 13 138 14.5 141 15.5 151 22 178 26 192 26.5 214 26.5 218 26 220 25 220.5 24 222.5 16 224 13 225 12.5 247 12 249 13.5 252 17 254 18 275 18 275 23 257 23 251 24.5 247 22 226 22 225 22.5 222.5 26 217.5 27 179 27 151 24.5 141 18.5 136 17.5 125 16 99 16 88 18.5 85 21.5 83 21.5 80.5 26 75 28.5 51 27.5 48.5 27 47 22.5 43 20 41 17 40 13 39.5 6 39.5 5Z"/><path fill="#00fff1" stroke="#00fff1" stroke-width="0.6" fill-rule="evenodd" d="M1 3 275 3 275 3 247 3.5 49 3.5 41 4 39.5 5 39.5 6 40 13 41.5 18 44 21 47 22.5 48.5 27 51 27.5 75 28.5 80.5 26 83 21.5 85 21.5 88 18.5 99 16 125 16 136 17.5 141 18.5 151 24.5 178 27 217.5 27 222.5 26 225 22.5 227 22 247 22 251 24.5 257 23 275 23 275 25 257 25 248 27 225 27 214 27.5 179 27.5 151 25.5 140 19.5 126 17.5 100 17.5 89 19.5 87 21.5 83 27 74 29.5 38 27.5 0 28 0 27 25 27 28 26 29 24 29 6 28 4.5 27 4 20 3.5 0 3.5 0 3Z"/><path fill="#00ffb8" stroke="#00ffb8" stroke-width="0.6" fill-rule="evenodd" d="M1 2.5 275 2.5 275 3 0 3 0 2.5ZM97 18 126 17.5 140 19.5 151 25.5 179 27.5 214 27.5 225 27 248 27 258 25 275 25 275 26 257 26 248 27.5 225 27.5 214 28 179 28 151 26 140 20.5 126 18.5 100 18.5 89 20.5 87 22.5 83 27.5 74 30 38 28.5 0 28.5 0 28 37 27.5 74 29.5 83 27 87 21.5 89 19.5Z"/><path fill="#00ff80" stroke="#00ff80" stroke-width="0.6" fill-rule="evenodd" d="M1 2 275 2 275 2.5 0 2.5 0 2ZM97 19 126 18.5 140 20.5 151 26 178 28 214 28 225 27.5 248 27.5 258 26 275 26 275 26.5 257 26.5 247 28 178 28.5 151 26.5 140 21.5 126 19.5 100 19.5 89 21.5 83 28.5 74 30.5 38 29 0 29 0 28.5 38 28.5 74 30 82.5 28 88 21.5Z"/><path fill="#00ff40" stroke="#00ff40" stroke-width="0.6" fill-rule="evenodd" d="M1 2 275 2 275 2 0 2 0 2ZM96 20 100 19.5 126 19.5 140 21.5 151 26.5 178 28.5 248 28 258 26.5 275 26.5 275 27.5 257 27.5 247 28.5 178 29 151 27 140 22 126 20.5 100 20 97 20.5 89 22.5 83 29 74 31 38 29.5 0 29.5 0 29 38 29 74 30.5 83 28.5 88 22.5Z"/><path fill="#00ff00" stroke="#00ff00" stroke-width="0.6" fill-rule="evenodd" d="M1 1.5 275 1.5 275 2 0 2 0 1.5ZM95 21 99 20 126 20.5 140 22 151 27 178 29 248 28.5 258 27.5 275 27.5 275 28 257 28 248 29 225 29 215 29.5 178 29.5 151 27.5 140 23 126 21 100 21 89 23.5 83 29.5 74 31.5 38 30 0 30 0 29.5 38 29.5 74 31 83 29 88 23Z"/><path fill="#00ff00" stroke="#00ff00" stroke-width="0.6" fill-rule="evenodd" d="M1 0.5 275 0.5 275 1.5 0 1.5 0 0.5ZM100 21 126 21 140 23 151 27.5 178 29.5 215 29.5 225 29 248 29 258 28 275 28 275 29 215 30 179 30 151 28.5 139.5 24 125 22 100 22 89 25 83 30.5 74 32.5 41 31 0 31 0 30 37 30 74 31.5 83 29.5 89 23.5Z"/><path fill="#00ff00" stroke="#00ff00" stroke-width="0.6" fill-rule="evenodd" d="M1 0 275 0 275 0.5 0 0.5 0 0ZM95 23 100 22 125 22 139.5 24 151 28.5 179 30 215 30 275 29 275 33 249 32.5 224 34 206 40.5 198 44.5 190 46 179 47 173 46 141 32.5 125 30.5 109 31.5 98 33 88 36.5 76 41 73 41.5 60 41.5 46 39.5 31 38.5 0 38.5 0 31 41 31 74 32.5 83 30.5 88.5 25Z"/><path fill="#00ff00" stroke="#00ff00" stroke-width="0.6" fill-rule="evenodd" d="M119 31 125 30.5 141 32.5 173 46 179 47 190 46 198 44.5 206 40.5 224 34 249 32.5 275 33 275 33.5 249 33 225 34.5 206 41.5 198 46 190 47.5 179 49 173 48 141 33.5 126 31.5 110 32 98 34 88 37.5 76 42.5 73 43 60 42.5 31 39.5 0 39.5 0 38.5 30 38.5 46 39.5 60 41.5 74 41.5 98 33 109 31.5Z"/><path fill="#00ff00" stroke="#00ff00" stroke-width="0.6" fill-rule="evenodd" d="M115 32 125 31.5 140 33 173 48 179 49 190 47.5 198 46 206 41.5 225 34.5 249 33 275 33.5 275 34 249 33.5 225 35 206 42.5 198 47 190 49 179 51 173 49.5 161 43 140 33.5 126 32 111 33 99 34.5 89 38 74 44 60 43.5 39 40.5 31 40 0 40.5 0 39.5 30 39.5 44 40.5 60 42.5 74 43 98 34 109 32.5Z"/><path fill="#4bff00" stroke="#4bff00" stroke-width="0.6" fill-rule="evenodd" d="M110 33 125 32 140 33.5 161 43 173 49.5 178 51 190 49 198 47 206 42.5 225 35 249 33.5 275 34 275 34.5 249 34 225 35.5 207 43 198 48 190 50.5 179 53 173 51.5 160.5 44 150 39.5 141 34.5 126 33 110 33.5 98 35.5 89 39 74 45 60 44.5 39 41.5 31 41 0 41 0 40.5 30 40 39 40.5 60 43.5 74 44 97 35.5Z"/><path fill="#96ff00" stroke="#96ff00" stroke-width="0.6" fill-rule="evenodd" d="M120 33 126 33 140 34.5 150 39.5 160.5 44 173 51.5 178 53 190 50.5 197 48 207 43 225 35.5 249 34 275 34.5 275 35 249 34.5 225 36 214 40.5 197 49 190 52 179 55 173 53 160.5 45 150 40.5 141 35.5 126 33.5 110 34 98 36.5 89 39.5 82 43 74 46.5 60 45.5 38 42 32 41.5 0 42 0 41 30 41 39 41.5 60 44.5 74 45 89 39 98 35.5 110 33.5Z"/><path fill="#c5ff00" stroke="#c5ff00" stroke-width="0.6" fill-rule="evenodd" d="M113 34 125 33.5 140 35 150 40.5 160.5 45 173 53 178 55 190 52 197 49 214 40.5 225 36 249 34.5 275 35 275 35.5 249 35 225 36.5 215 40.5 192 52.5 179 56.5 177 56.5 173 55 160.5 46 150 41.5 141 36 139 35 126 34 110 35 98 37 88 41 83 43.5 74 47.5 60 46.5 38.5 43 33 42.5 0 43 0 42 31 41.5 38 42 60 45.5 74 46.5 82 43 89 39.5 98 36.5Z"/><path fill="#f3ff00" stroke="#f3ff00" stroke-width="0.6" fill-rule="evenodd" d="M123 34 140 35.5 150 41.5 160.5 46 173 55 178 57 192 52.5 215 40.5 225 36.5 249 35 275 35.5 275 36 249 35.5 224 37 215 41 191 55.5 178 62 173 60 160.5 48 150 43 141 36.5 138 35.5 124 34.5 110 35.5 99 37.5 88 42 82 46 74 49.5 60 48.5 37 44 21 43.5 0 44 0 43 31 42.5 38.5 43 60 46.5 74 47.5 83 43.5 88 41 98 37 110 35Z"/><path fill="#ffe100" stroke="#ffe100" stroke-width="0.6" fill-rule="evenodd" d="M117 35 126 34.5 140 36 150 43 160.5 48 173 60 178 62 191 55.5 215 41 224 37 249 35.5 275 36 275 36.5 249 36 224 37.5 214.5 42 199 52 189.5 63 166 63 160 53 141 37 139 36.5 127 35 110 36 98 38.5 88 43.5 75 54 73 54.5 60 53 50 49 37 45.5 21 44.5 0 45.5 0 44 31 43.5 38 44 60 48.5 74 49.5 82 46 88 42 98 37.5 110 35.5Z"/><path fill="#ffb900" stroke="#ffb900" stroke-width="0.6" fill-rule="evenodd" d="M111 36 125 35 140 36.5 160 53 166 63 162 63 159 57 150.5 47 141 38 139 37 127 35.5 110 36.5 98 39 88 45 75 59 73 60 60 57.5 50 51 37 47 30 46.5 20 46 0 47.5 0 45.5 20 44.5 32.5 45 38 45.5 49 48.5 60 53 74 54.5 88 43.5 96.5 39 99 38ZM245 36 257 36 275 36.5 275 36.5 249 36 224 38 215 42.5 205 49 198 54.5 193 63 189.5 63 199 52 216.5 41 225 37.5Z"/><path fill="#ff8b00" stroke="#ff8b00" stroke-width="0.6" fill-rule="evenodd" d="M119 36 126 35.5 139 37 141 38 150.5 47 159 57 162 63 159.5 63 150 49 140.5 38 126 36 110 37 97 40 88 46.5 76 63 63 63 61 62.5 50 53.5 37 49 30 48 20 47.5 0 49 0 47.5 19 46 30 46.5 37 47 50 51 60 57.5 73 60 75 59 88 45 97 39.5 99 38.5 110 36.5ZM236 37 250 36 275 36.5 275 37 248 36.5 224 38.5 215 43 205 50 198.5 56 195 63 193 63 196.5 57 199 53.5 205 49 215 42.5 224 38Z"/><path fill="#ff5600" stroke="#ff5600" stroke-width="0.6" fill-rule="evenodd" d="M112 37 125 36 140 38 150 49 159.5 63 156.5 63 150 51 140.5 39 138 38 125 37 110 38 98 40.5 88 48 78.5 63 76 63 86.5 48 89 45.5 98 39.5ZM243 37 258 36.5 275 37 275 37.5 249 37 224 39 216 43 205 51 199 56.5 196 63 195 63 197 58 199 55 206 49 216 42.5 225 38ZM15 48 30 48 39 49.5 50 53.5 60 62 63 63 56.5 63 50 56 39 51.5 36 50.5 30 49.5 20 49 0 51 0 49Z"/><path fill="#ff1e00" stroke="#ff1e00" stroke-width="0.6" fill-rule="evenodd" d="M121 37 127 37 140 38.5 150 51 156.5 63 154.5 63 150 53 140 39.5 125 37.5 110 38.5 98.5 41 88.5 49 80.5 63 78.5 63 88 48 97 41 99 40 109 38ZM234 38 249 37 275 37.5 275 38 246 38 226.5 39 224 39.5 215.5 44 206 51 199 58.5 197.5 63 196 63 197.5 59 199.5 56 206 50 214.5 44 224 39ZM10 50 20 49 28 49.5 38 51 50 56 56.5 63 53.5 63 50 58.5 47.5 57 38 52.5 30.5 51 20 50.5 0 52.5 0 51Z"/><path fill="#ff0000" stroke="#ff0000" stroke-width="0.6" fill-rule="evenodd" d="M117 38 126 37.5 140 39.5 150 53 154.5 63 80.5 63 88 49.5 98 41 109 38.5ZM243 38 275 38 275 63 197.5 63 199 58.5 205 52 217.5 43 223 40 226 39ZM16 51 20 50.5 29 51 38 52.5 50 58.5 53.5 63 0 63 0 52.5Z"/></g>
<g transform="translate(472 32.5)"><path fill="#0053ff" stroke="#0053ff" stroke-width="0.6" fill-rule="evenodd" d="M255 3 275 2.5 275 8 256 7.5 253.5 5 253.5 4ZM1 3.5 27 3.5 29 4 29.5 5 29.5 6 28 11 27 12 0 11.5 0 3.5ZM98 5 115 4.5 118 5 118.5 6 115 8 101 8 99 7.5 97 6ZM175 5 181 4.5 183.5 5 185.5 6 182 9.5 178 11.5 176.5 10 174.5 7 174 6Z"/><path fill="#0088ff" stroke="#0088ff" stroke-width="0.6" fill-rule="evenodd" d="M256 2 275 2 275 2.5 256 2.5 254 3 253.5 4 253.5 5 255 7 257 8 275 8 275 13 257 13 254 12 250.5 9 249 6 249 5 251.5 3ZM1 2.5 27 3 31.5 4 32.5 6 32 12 31.5 17 30.5 20 29 21.5 27 22.5 0 22 0 11.5 27 12 28.5 10 29.5 5 29 4 27 3.5 0 3.5 0 2.5ZM95 4 117 3.5 126 5 127.5 6 126.5 8 125 10 119.5 12 115 13 100 13 94 12 92 10.5 91 9 90 6 90.5 5ZM97.5 5 97 6 98 7 101 8 115 8 118.5 6 118 5 115 4.5 101 4.5ZM173 4 186 4 196 5 197 6 197 7 195 15 192 19 188 21 179 22 174 20.5 171 18 169 15.5 167.5 12 167 7 167 6 167.5 5ZM175 5 174 6 174.5 7 176.5 10 178 11.5 182 9.5 185.5 6 183.5 5 181 4.5Z"/><path fill="#00b9ff" stroke="#00b9ff" stroke-width="0.6" fill-rule="evenodd" d="M1 2 27 2 33 3 34.5 4 35 5 36.5 13 38 16.5 39 16 41.5 13 44.5 5 46.5 4 49.5 4 52 5 56 14 58 16.5 60 17.5 61 17 63.5 14 66.5 5 68.5 4 71.5 4 73.5 5 73.5 6 73.5 25 72 27 69 28 38 27 0 26.5 0 22 27 22.5 29 21.5 30.5 20 31.5 17 32.5 7 32.5 5 31.5 4 29 3 0 2.5 0 2ZM253 2 275 1.5 255.5 2 251.5 3 249 5 249 6 251 9.5 253 11.5 255 12.5 275 13 275 19 255 19 251 17.5 247 12.5 246 12 226 12.5 224 13.5 222.5 15 220.5 19 218.5 25 216 27 208 27.5 191 27.5 166 25.5 153 22.5 146 18.5 138 10.5 130 16 116 18 87 18.5 86 18.5 85 17 85.5 5 87 4 91 3.5 115 3 130 3.5 138 3 146 3.5 164 3.5 178 3 201 3.5 245 4ZM95 4 90.5 5 90 6 91 9.5 94 12 100 13 115 13 119.5 12 125 10 126.5 8 127.5 6 126 5 117 3.5ZM172.5 4 167.5 5 167 6 167 7 167.5 12 169 15.5 171 18 174 20.5 179 22 188 21 192 19 195 15 197 7 197 6 196 5 184 4Z"/><path fill="#00e1ff" stroke="#00e1ff" stroke-width="0.6" fill-rule="evenodd" d="M1 1.5 32.5 2 37 3 38 5 41 3 54.5 3 58 4 60 6 61.5 4 64.5 3 76.5 3 78.5 4 78.5 5 78.5 27 77 29 76 29.5 71 30 38 29 0 29 0 26.5 38 27 69 28 71 27.5 73 26.5 73.5 24 73.5 6 73.5 5 71.5 4 68.5 4 66.5 5 63.5 14 61 17 60 17.5 58 16.5 56 14 52 5 49.5 4 46.5 4 44.5 5 41.5 13 39 16 38 16.5 36.5 13 35 5 34.5 4 33 3 27 2 0 2 0 1.5ZM250 2 256 1.5 275 1.5 255 1.5 246 3.5 201 3.5 178 3 164 3.5 146 3.5 138 3 130 3.5 115 3 92 3.5 87 4 85.5 5 85 17 86 18.5 87 18.5 116 18 130 16 138 10.5 146 18.5 152 22 155 23 165 25 179 26.5 190 27.5 213 27.5 216 27 218.5 25 221.5 17 223 14.5 225 12.5 246 12 247 12.5 251 17.5 255 19 275 19 275 25.5 256 25.5 251 26 249 25 247.5 23 246 22.5 227 23 225 23.5 222 28 219.5 29 208 30 197 30 166.5 29 155 26 146 23 138 17 129.5 21 115 23.5 89 24 83 26.5 82 26 81 24 81 6 81.5 4 82.5 3 101 2.5 246 2.5Z"/><path fill="#00fff1" stroke="#00fff1" stroke-width="0.6" fill-rule="evenodd" d="M1 1 60 2 246 2 256 1 275 1 256 1.5 246 2.5 87 2.5 82 3.5 81 5 81 8 81 24 82 26 83 26.5 89 24 115 23.5 125 22 130 21 138 17 146 23 155 26 166 29 192 30 207 30 219.5 29 222 28 225 23.5 227 23 246 22.5 247 22.5 249 25 250.5 26 256 25.5 275 25.5 275 26.5 256 26.5 247 29 227 29.5 207 31 166 30.5 146.5 25 138 19.5 129.5 23 116 25 89 25.5 87 26.5 80.5 31 79 31.5 38 30 0 30 0 29 38 29 60 30 73.5 30 77 29 78.5 27 79 25 78.5 5 78.5 4 76.5 3 64.5 3 61.5 4 60 6 58 4 54.5 3 41 3 38 5 37 3 32.5 2 0 1.5 0 1Z"/><path fill="#00ffb8" stroke="#00ffb8" stroke-width="0.6" fill-rule="evenodd" d="M1 1 60 1.5 245 1.5 256 1 275 1 256 1 246 2 60 2 38 2 27 1 0 1ZM137 20 139 20 146.5 25 166 30.5 207 31 227 29.5 247 29 256 26.5 275 26.5 275 27 256 27 246 30 225 30.5 207 31.5 166 31.5 146 25.5 138 21 130 24 116 26 89 26.5 87 27.5 80.5 32 79 32.5 38 31 0 31 0 30 37 30 79 31.5 80.5 31 87 26.5 89 25.5 116 25 129.5 23Z"/><path fill="#00ff80" stroke="#00ff80" stroke-width="0.6" fill-rule="evenodd" d="M1 0.5 59 1 246 1 257 0.5 275 1 256 1 246 1.5 60 1.5 0 1ZM136 21.5 138 21 146 25.5 166 31.5 206 31.5 225 30.5 246 30 256 27 275 27.5 256 27.5 246 30.5 225 31 207 32 166 32 146 26.5 138 22.5 130 25 116 27 89 27.5 87 28 81 32.5 79 33 38 31.5 0 31.5 0 31 37 31 79 32.5 80.5 32 87 27.5 89 26.5 116 26 130 24Z"/><path fill="#00ff40" stroke="#00ff40" stroke-width="0.6" fill-rule="evenodd" d="M1 0 49 0.5 246 0.5 257 0.5 275 0.5 256 0.5 246 1 60 1 0 0.5ZM136 23 138 22.5 146 26.5 166 32 206 32 225 31 246 30.5 256 27.5 275 27.5 256 27.5 246 30.5 225 31.5 201 33 166 33 146 27.5 138 24 130 26 116 27.5 89 28 87 29 81 33 79 33.5 38 32 0 32 0 31.5 37 31.5 79 33 81 32.5 87 28 89 27.5 115 27 130 25Z"/><path fill="#00ff00" stroke="#00ff00" stroke-width="0.6" fill-rule="evenodd" d="M1 0 275 0 275 0.5 246 0.5 59 0.5 0 0ZM138 24 146 27.5 166 33 207 32.5 225 31.5 246 30.5 256 27.5 275 28 256 28 246 31 225 31.5 201 33.5 166 34 146 28.5 138 25.5 129 27 115 28.5 89 29 87 29.5 81 33.5 79 34 38 33 0 33 0 32 37 32 79 33.5 81 33 87 29 89 28 116 27.5 130 26Z"/><path fill="#00ff00" stroke="#00ff00" stroke-width="0.6" fill-rule="evenodd" d="M30 0 275 0 275 0 29 0ZM135 26 139 25.5 146 28.5 166 34 201 33.5 225 31.5 246 31 256 28 275 28 275 29 256 29 247 31.5 226 32 210 34 166 35 164 34.5 153 31 138 27 129 28.5 115 29.5 89 30 80 35 59 34.5 38 34 0 33.5 0 33 37 33 79 34 81 33.5 87 29.5 89 29 115 28.5 129 27Z"/><path fill="#00ff00" stroke="#00ff00" stroke-width="0.6" fill-rule="evenodd" d="M137 27 153 31 165 35 208 34 226 32 246 31.5 250 31 256 29 275 29 275 32 252 31.5 226 33 223 33.5 215 37.5 206 45 199.5 59 198 64 152 64 151.5 47 150.5 42 147 37.5 144 36.5 137 36 99 36.5 88 37.5 81 42 79 42.5 61 42 47 39.5 28 38.5 0 38.5 0 33.5 38 34 59 34.5 80 35 89 30 115 29.5 129 28.5Z"/><path fill="#00ff00" stroke="#00ff00" stroke-width="0.6" fill-rule="evenodd" d="M245 32 260 31.5 275 32 275 32.5 249 32 224 33.5 215 38.5 207 45 199.5 60 198.5 64 198 64 199.5 59 205.5 46 207 44 215 37.5 225 33ZM135 36 138 36 146 37 150.5 42 151.5 47 152 64 151.5 64 151 61 150.5 44 148 40 145 38 137 37 100 37.5 88 39 81 43 79 44 60 43 46 40.5 28 39.5 0 40 0 38.5 28 38.5 48 39.5 63.5 42 79 42.5 81 42 87 38 89 37.5 101 36.5Z"/><path fill="#00ff00" stroke="#00ff00" stroke-width="0.6" fill-rule="evenodd" d="M232 33 250 32 275 32.5 275 33 248 32.5 227 33.5 224 34 215 39 207 46 200.5 59 199 64 198.5 64 199.5 60 205.5 48 207.5 45 215 38.5 224 33.5ZM96 38 114 37 137 37 146 38 149.5 42 150.5 45 151.5 64 151 64 151 62 150 45 147.5 41 145 39 136 38 115 37.5 100 38 88 39.5 81 44 79 44.5 60 43.5 48 41.5 40 41 28 40 0 40.5 0 40 29 39.5 48 40.5 61 43 79 44 81 43 88 39Z"/><path fill="#4bff00" stroke="#4bff00" stroke-width="0.6" fill-rule="evenodd" d="M238 33 256 32.5 275 33 248 33 226 34 224 34.5 215 39.5 207 46.5 200.5 60 199 64 199.5 61 206.5 47 214 40 225 34ZM106 38 137 38 146 39.5 149 43 150 46 151 64 150.5 64 149.5 46 147 41.5 146 40.5 144 39.5 129 38.5 115 38.5 100 39 88 40.5 81 45 79 45.5 61 44.5 48 42 30 41 0 41.5 0 40.5 29 40.5 48 41.5 61 43.5 79 44.5 81 44 88 39.5 99 38.5Z"/><path fill="#96ff00" stroke="#96ff00" stroke-width="0.6" fill-rule="evenodd" d="M244 33 257 33 275 33.5 247 33 225 34.5 215 40 207 47 199 64 200.5 60 206.5 47 215 39.5 225 34ZM99 39 115 38.5 130 38.5 138 39 146 40.5 149 44 150 47 150.5 64 150.5 64 149 46.5 146.5 42 144 40.5 131 39.5 116 39 100 39.5 88 41.5 81 45.5 79 46.5 60 45.5 48 42.5 37 42 27 41.5 0 42.5 0 41.5 29 41 48 42 61 44.5 79 45.5 81 45 88 40.5Z"/><path fill="#c5ff00" stroke="#c5ff00" stroke-width="0.6" fill-rule="evenodd" d="M232 34 248 33 275 33.5 247 33.5 225 35 215 40.5 207.5 47 199.5 64 200.5 61 205.5 50 208 46 215 40 224 35ZM97 40 116 39 133 39.5 145.5 41 147 42.5 149 46.5 150.5 64 150 64 149 52 147.5 46 146 42.5 144 42 132 40.5 122.5 40 100 40.5 89 42 81 46.5 79 47 60 46 49 43.5 41 43 28 42.5 0 43 0 42.5 29 41.5 48 42.5 61 45.5 79 46.5 81 45.5 88 41.5Z"/><path fill="#f3ff00" stroke="#f3ff00" stroke-width="0.6" fill-rule="evenodd" d="M237 34 248 33.5 275 34 247 33.5 225 35 215 40.5 208 47 206 50 199.5 64 200.5 61 207 47.5 214 41 225 35ZM109 40 130 40.5 145 42 147 44 148 47 149 52 150 64 149 64 149 58 146 45.5 144.5 44 132.5 42 115 41 98 42 88 44 81 48.5 79 49 60 48 48 45 35 44 27 43.5 0 44.5 0 43 29 42.5 48 43.5 61 46.5 79 47 81 46.5 89 42 100 40.5Z"/><path fill="#ffe100" stroke="#ffe100" stroke-width="0.6" fill-rule="evenodd" d="M241 34 256 33.5 275 34.5 247 34 225 35.5 215 41 208 47.5 206 50.5 200 64 207 48 215 40.5 225 35ZM99 42 115 41 130 42 145 44 146 45.5 148 53 149 58.5 149 64 148 64 147.5 56 146 51 145 49.5 138 47 130 45 115 44.5 100 45 88 48.5 80 52.5 71 53 60 52.5 48 49 28 46 0 46 0 44.5 28 43.5 48 45 60 48 79 49 81 48.5 88 44Z"/><path fill="#ffb900" stroke="#ffb900" stroke-width="0.6" fill-rule="evenodd" d="M245 34 257 34 275 34.5 247 34 225 36 215 41.5 208 48 206 51 200 64 207 48.5 215 41 225 35.5ZM103 45 115 44.5 130 45 138 47 144 49 146 51 147 54.5 148 64 143 64 143 59 142 59 141 58 141 56 139 53 136 51 129.5 49 115 48 100.5 49 87 53 80 57 69 57.5 60 57.5 48 53.5 28 48.5 0 47.5 0 46 28 46 48 49 60 52.5 78 53 80 52.5 89 48 99 45.5Z"/><path fill="#ff8b00" stroke="#ff8b00" stroke-width="0.6" fill-rule="evenodd" d="M234 35 248 34 275 34.5 247 34.5 225 36 215 42 208 48.5 200.5 64 207 49 214.5 42 225 36ZM1 47.5 28 48.5 48 53.5 60 57.5 69 57.5 80 57 87 53 100.5 49 115 48 129.5 49 136 51 139 53 141 56 141 58 142 59 143 59 143 64 134 64 132 59 130.5 57 129 56.5 116 56 100 56.5 89 58 86 58 80 61 71 62 60 62 28 51 0 49.5 0 47.5Z"/><path fill="#ff5600" stroke="#ff5600" stroke-width="0.6" fill-rule="evenodd" d="M239 35 256 34.5 275 35 275 35.5 247 35 225 36.5 215.5 42 208 49 200.5 64 207 50 215 42 225 36ZM1 49.5 28 51 61 62 70 62.5 79 61 86 58 89 58 100 56.5 115 56 129 56.5 130.5 57 132 59 134 64 86.5 64 84 63.5 82.5 64 52 64 28 54 0 51.5 0 49.5Z"/><path fill="#ff1e00" stroke="#ff1e00" stroke-width="0.6" fill-rule="evenodd" d="M244 35 265 35 275 35.5 275 36 248 35 225 37 215 43 208 50 201.5 64 201 64 207 50.5 215.5 42 225 36.5ZM1 51.5 28 54 52 64 42.5 64 28 56.5 0 53 0 51.5ZM83 63.5 84 63.5 86.5 64 82.5 64Z"/><path fill="#ff0000" stroke="#ff0000" stroke-width="0.6" fill-rule="evenodd" d="M235 36 248 35 275 36 275 64 201.5 64 208 50 215 43 225 37ZM1 53 28 56.5 42.5 64 0 64 0 53Z"/></g>
<g transform="translate(472 131.5)"><path fill="#0000ff" stroke="#0000ff" stroke-width="0.6" fill-rule="evenodd" d="M1 0 22 0 24 2 22.5 7 20 10.5 0 11.5 0 0ZM268 1 271 0 275 0 275 9 256 10 254 9 252.5 4 253 3ZM46 2 58 2 61 3 60 8 58 12 56 12.5 48 12 46 8.5 44.5 4 44 3ZM100 2 120 2.5 124 3 126 4 123.5 8 120 11 101 11.5 100 11 98 9 95.5 4 95.5 3ZM151 3 178 2.5 182.5 3 184.5 4 183 7 181 9.5 179 11.5 177 12 155 10.5 151 7.5 148 4Z"/><path fill="#0023ff" stroke="#0023ff" stroke-width="0.6" fill-rule="evenodd" d="M22 0 24 0 28.5 2 29 3 27.5 14 26.5 17 25 19 23 20.5 20 21.5 0 22.5 0 11.5 20 10.5 22 7.5 23.5 3 24 2ZM262 1 267 0 271 0 266 1.5 253 3 252.5 4 254 9 256 10 275 9 275 17.5 256 17.5 254 17 252 12 250 4 251 3 253.5 2ZM40 2 44 1.5 58 1.5 62.5 2 65 3 64 15 63 19 62 21 60 22.5 57 23 48 22.5 44 20.5 42 18 40.5 14 39 3ZM45.5 2 44 3 44.5 4 46 8.5 48 12 56 12.5 58 12 60 8 61 3 58 2ZM94 2 101 1.5 123 2 132 3 134 4 134 5 132.5 10 130.5 13 127 16 121 19.5 119 20 100 21 96.5 20 94 18.5 92.5 17 91 14 89.5 4 90 3ZM100 2 95.5 3 95.5 4 98 9 100 11 101 11.5 120 11 123.5 8 126 4 124 3 120 2.5ZM152 2 181.5 2 191 3 193 4 193 5 191.5 13 190 16 188.5 18 184 20.5 177 22 155 19 149 16.5 144 14 140.5 10 139 7 138.5 4 140.5 3ZM150 3 148 4 148.5 5 152 8.5 155 10.5 177 12 179 11.5 181 9.5 183 7 184.5 4 182.5 3 178 2.5Z"/><path fill="#0053ff" stroke="#0053ff" stroke-width="0.6" fill-rule="evenodd" d="M24 0 31 1.5 48 1 67 2 87 2 101 1 121 1.5 136 2.5 154 1.5 177 1.5 212.5 3 215 4 215 5 215 20 214.5 22 212 24 204 26 178 26 156 23.5 136 17.5 120 24 100 25.5 88 25.5 74 27.5 20 25.5 0 26.5 0 22.5 20 21.5 23 20.5 25 19 27.5 14 29 3 28.5 2ZM39.5 2 39.5 5 40.5 14 42 18 44 20.5 48 22.5 57 23 60 22.5 62 21 63 19 64 15 65 3 62.5 2 58 1.5 44 1.5ZM93.5 2 90 3 89.5 4 91 14 92.5 17 94 18.5 96.5 20 100 21 119 20 121 19.5 127 16 130.5 13 132.5 10 134 5 134 4 132 3 123 2 101 1.5ZM151.5 2 140.5 3 138.5 4 139 7 140.5 10 144 14 149 16.5 155 19 177 22 184 20.5 188.5 18 190 16 191.5 13 193 5 193 4 191 3 181.5 2ZM258 1 263 0 267 0 254 2 251 3 250 4 251 9 252.5 14 254 17 256 17.5 275 17.5 275 21 255 21 253 20.5 250.5 19 249 13 248 4 248.5 3 251.5 2Z"/><path fill="#0088ff" stroke="#0088ff" stroke-width="0.6" fill-rule="evenodd" d="M26 0 31 0.5 49 0.5 67 1 101 0.5 136 1.5 177 1 205 1.5 216.5 3 219 4 219 20 218.5 22 216.5 24 211.5 26 204 28 178 28 156 26.5 136 20 119 27 88 28 73 29.5 20 27.5 0 28 0 26.5 20 25.5 73 27.5 88 25.5 119 24.5 136 17.5 155 23.5 178 26 205 26 213 23 214.5 22 215 20 215 5 215 4 212.5 3 177 1.5 154 1.5 136 2.5 121 1.5 101 1 87 2 67 2 48 1 31 1.5ZM254 1 259.5 0 263 0 251.5 2 248.5 3 248 4 249 13 250.5 19 253 20.5 255 21 275 21 275 23 254 23 248.5 22 247 21 246 18 245.5 4 246.5 3Z"/><path fill="#00b9ff" stroke="#00b9ff" stroke-width="0.6" fill-rule="evenodd" d="M28 0 136 0.5 179 0.5 204 0.5 210 2 223 3 245 3 255 0 259.5 0 249.5 2 246.5 3 245.5 4 246 18 247 21 248.5 22 253 22.5 275 23 275 24.5 230 24.5 220 25.5 205 29.5 178 30 155 29 136 22 119 29 88 30 73 31.5 20 29.5 0 30 0 28 19 27.5 73 29.5 88 28 119 27 136 20 156 26.5 178 28 204 28 211.5 26 216.5 24 218 23 219 21 219 4 216.5 3 205 1.5 177 1 136 1.5 101 0.5 67 1 49 0.5 31 0.5 27.5 0Z"/><path fill="#00e1ff" stroke="#00e1ff" stroke-width="0.6" fill-rule="evenodd" d="M30 0 205 0 211 1.5 223 2.5 244 2.5 253.5 0 256 0 245 3 242 3 220 3 204 0.5 179 0.5 136 0.5ZM134 22.5 137 22 155 29 178 30 205 29.5 220 25.5 230 24.5 275 24.5 275 25.5 252 25.5 230 25.5 220 27 205 31 178 31.5 155 30.5 136 24 119 31.5 88 32 72 33 20 31 0 31.5 0 30 19 29.5 72 31.5 88 30 119 29Z"/><path fill="#00fff1" stroke="#00fff1" stroke-width="0.6" fill-rule="evenodd" d="M205 0 212 1.5 223 2 245 1.5 253.5 0 245 2 242 2.5 220 2 210 1.5ZM136 24 155 30.5 178 31.5 205 31 220 27 230 25.5 254 25.5 275 25.5 275 26.5 253 26 230 26.5 220 27.5 204 32.5 156 32 136 25.5 119 32.5 88 33 68 34 20 32 0 32.5 0 31.5 19 31 67 33 88 32 119 31.5Z"/><path fill="#00ffb8" stroke="#00ffb8" stroke-width="0.6" fill-rule="evenodd" d="M207 0 212 1 223 1.5 244 1.5 252 0 246 1.5 242 2 213 1.5 206.5 0ZM134 26 137 25.5 155 31.5 178 32.5 205 32 212 29.5 220 27.5 230 26.5 254 26 275 26.5 275 27 253 26.5 229 27 219 28.5 204 33 156 32.5 136 26.5 119 33.5 88 33.5 67 34.5 20 32.5 0 33 0 32.5 20 32 67 34 88 33 119 32.5 121 32Z"/><path fill="#00ff80" stroke="#00ff80" stroke-width="0.6" fill-rule="evenodd" d="M208 0 213 1 223 1 244 1 250.5 0 246 1 242 1.5 213 1ZM134 27 137 26.5 155 32.5 178 33 205 33 219 28.5 230 27 254 26.5 275 27 275 27.5 253 27 229 27.5 220 28.5 204 33.5 178 34 156 33.5 136 27.5 119 34 67 35 20 33 0 33.5 0 33 20 32.5 73 34.5 88 33.5 119 33.5Z"/><path fill="#00ff40" stroke="#00ff40" stroke-width="0.6" fill-rule="evenodd" d="M209 0 223 0.5 244 0.5 249 0 245 1 242 1 219 1 212 1ZM134 28 137 27.5 155 33 178 34 205 33.5 220 28.5 230 27.5 254 27 275 27.5 275 28.5 253 27.5 230 28 220 29 204 34 178 34.5 156 34 136 28 119 35 67 35.5 20 33.5 0 34 0 33.5 20 33 67 35 119 34Z"/><path fill="#00ff00" stroke="#00ff00" stroke-width="0.6" fill-rule="evenodd" d="M211 0 223 0.5 247.5 0 242 0.5 220 0.5 210.5 0ZM230 28 254 27.5 275 28.5 275 29 253 28 229 28.5 219 30 204 35 178 35 156 34.5 136 29 119 35.5 67 36.5 20 34.5 0 35 0 34 20 33.5 67 35.5 119 35 136 28 156 34 178 34.5 204 34 220 29Z"/><path fill="#00ff00" stroke="#00ff00" stroke-width="0.6" fill-rule="evenodd" d="M212 0 213 0 246 0 242 0.5 211.5 0ZM246 28 275 29 275 30 254 29 230 29.5 220 30.5 204 36 155 35.5 136 30.5 119 36.5 67 37 20 35 0 36 0 35 20 34.5 67 36.5 119 35.5 136 29 156 34.5 178 35 204 35 220 29.5 230 28.5Z"/><path fill="#00ff00" stroke="#00ff00" stroke-width="0.6" fill-rule="evenodd" d="M237 29 254 29 275 30 275 32 245 30.5 231 31.5 220 34 204.5 47 199 58 198 64 72.5 64 67 58 59 50.5 48 43.5 37 41.5 20 41 0 41.5 0 36 20 35 67 37 119 36.5 136 30.5 155 35.5 204 36 214.5 32 221 30Z"/><path fill="#00ff00" stroke="#00ff00" stroke-width="0.6" fill-rule="evenodd" d="M239 31 251 30.5 275 32 275 32.5 244 31 230 32.5 220 34.5 204.5 48 199.5 59 198.5 64 198 64 199 58 204.5 47 219 34.5 227 32ZM1 41.5 20 41 37 41.5 48 43.5 59 50.5 67 58 72.5 64 71.5 64 66 58 58 51 48 44.5 37 42.5 20 42 0 42.5 0 41.5Z"/><path fill="#00ff00" stroke="#00ff00" stroke-width="0.6" fill-rule="evenodd" d="M235 32 248 31 275 32.5 275 33 245 31.5 230 33 220 35 205 48 200.5 58 199 64 198.5 64 199.5 59 203.5 50 206 46.5 220 34.5 229 32.5ZM18 42 38 42.5 48 44.5 59 52 66 58 71.5 64 70.5 64 66 59 58 52 47 45 38 43.5 20 42.5 0 43.5 0 42.5Z"/><path fill="#4bff00" stroke="#4bff00" stroke-width="0.6" fill-rule="evenodd" d="M240 32 248 31.5 275 33 275 33.5 245 32 230 33.5 220 35.5 205 48.5 200.5 59 199 64 200.5 58 205 48 219 36 221 35 228 33.5ZM8 43 20 42.5 38 43.5 48 45.5 58 52 66 59 70.5 64 69.5 64 66 60 58 52.5 48 46 37 44 20 43 0 44 0 43.5Z"/><path fill="#96ff00" stroke="#96ff00" stroke-width="0.6" fill-rule="evenodd" d="M243 32 255 32.5 275 33.5 275 34 245 32 230 34 220 36 205 49 201 59 199.5 64 200.5 59 205 48.5 219 36 221 35 229 33.5ZM1 44 20 43 38 44 47 46 58 52.5 66 60 69.5 64 69 64 66 60.5 58 53.5 47 46.5 38 44.5 20 44 0 44.5 0 44Z"/><path fill="#c5ff00" stroke="#c5ff00" stroke-width="0.6" fill-rule="evenodd" d="M237 33 246 32 275 34 245 32.5 230 34 220 36.5 205 49.5 199.5 64 200.5 60 205 49 219 36.5 222 35.5ZM14 44 20 44 38 44.5 48 47 58 53.5 66 60.5 69 64 68 64 65.5 61 57.5 54 47 47 38 45.5 20 44.5 0 45.5 0 44.5Z"/><path fill="#f3ff00" stroke="#f3ff00" stroke-width="0.6" fill-rule="evenodd" d="M240 33 246 32.5 275 34.5 245 32.5 230 34.5 220 37 205 50 200 64 200.5 60 205 49.5 219 37 221 36 229 34.5ZM7 45 20 44.5 38 45.5 47 47 58 54.5 65.5 61 68 64 67 64 57.5 55 47 48 38 46.5 30 46 20 45 0 46 0 45.5Z"/><path fill="#ffe100" stroke="#ffe100" stroke-width="0.6" fill-rule="evenodd" d="M242 33 248 32.5 275 35 245 33 230 35 220.5 37 205 51 200 64 205 50 219 37.5 221 36.5 229 35ZM3 46 20 45 30 46 38 46.5 47 48 58 55.5 67 64 65.5 64 58 57 47 50 38 48 30 47.5 20 46 0 47 0 46Z"/><path fill="#ffb900" stroke="#ffb900" stroke-width="0.6" fill-rule="evenodd" d="M244 33 261 34 275 35 245 33 221 37 219 38.5 206 50 204.5 52 200 64 205 51 220 37 230 35ZM3 47 20 46 30 47.5 38 48 47 50 58 57 65.5 64 63.5 64 58 58.5 47 51.5 38 49.5 30 49 20 47.5 0 48.5 0 47Z"/><path fill="#ff8b00" stroke="#ff8b00" stroke-width="0.6" fill-rule="evenodd" d="M239 34 246 33 275 35.5 245 33.5 229 36 220 38 205.5 51 200.5 64 205 51 219.5 38 222 37ZM6 48 20 47.5 30 49 38 49.5 47 51.5 58 58.5 63.5 64 62 64 58 60 48 53.5 39 51.5 30 50.5 20 48.5 0 49.5 0 48.5Z"/><path fill="#ff5600" stroke="#ff5600" stroke-width="0.6" fill-rule="evenodd" d="M242 34 245 33.5 254 34 275 35.5 245 34 221 38 218 40 206 51 200.5 64 205.5 51 220 38 228 36ZM9 49 20 48.5 30 50.5 38 51 47 53.5 57 59.5 62 64 60 64 57 61 48 55.5 38 52.5 30 52 20 49.5 0 50.5 0 49.5Z"/><path fill="#ff1e00" stroke="#ff1e00" stroke-width="0.6" fill-rule="evenodd" d="M244 34 275 35.5 275 36 245 34.5 227.5 37 220 39 206 52 201.5 64 201 64 206 51 220 38.5 230.5 36ZM11 50 20 49.5 30 52 38 52.5 47 55 57 61 60 64 58.5 64 48 57 38 54.5 30 53.5 20 51 0 51.5 0 50.5Z"/><path fill="#ff0000" stroke="#ff0000" stroke-width="0.6" fill-rule="evenodd" d="M240 35 246 34.5 275 36 275 64 201.5 64 206 52 220 39 227.5 37ZM14 51 20 51 30 53.5 38 54.5 46 56.5 49 58 58.5 64 0 64 0 51.5Z"/></g>
<g transform="translate(472 239.5)"><path fill="#0000ff" stroke="#0000ff" stroke-width="0.6" fill-rule="evenodd" d="M1 0 33 0 34.5 11 34 15 32.5 19 31 20 20 21 0 21 0 0ZM264 1 270.5 0 275 0 275 8 256 8.5 254 7.5 252.5 3 253.5 2ZM88 2 114 3 117.5 3 120.5 4 116 7.5 110 10.5 89 11 88 10.5 86 9 83 4 83 3ZM155 3 187 2.5 190 3 190.5 4 189 9 188 10.5 186 10.5 160 9.5 155.5 7 152 4Z"/><path fill="#0023ff" stroke="#0023ff" stroke-width="0.6" fill-rule="evenodd" d="M34 0 35.5 4 36 5 38 5 38 6 37 17 36 20 34.5 22 31 23 0 23.5 0 21 20 21 32 19.5 33.5 17 34.5 12 33 1 33 0ZM258 1 270.5 0 253.5 2 252.5 3 252.5 4 254 7.5 255 8.5 275 8 275 15 256 15.5 254 15 251.5 10 250 3 251.5 2ZM81 2 89 1.5 116 2 131 3 134 4 132.5 8 129 11 123 14 113 18 109 19 87 19.5 84 19.5 81 18 79 16 78.5 14 77 8 77 3ZM87.5 2 83 3 83 4 86 9 88 10.5 89 11 110 10.5 116 7.5 120.5 4 117.5 3 113 2.5ZM156 2 188 2 193.5 3 194 4 194 5 193 14 191 17 188 19 160 17 151 14 146 11.5 143 8.5 141 5 141 4 143.5 3ZM154 3 152 4 155.5 7 160 9.5 186 10.5 188 10.5 189 9 190.5 4 190 3 187 2.5 161 2.5Z"/><path fill="#0053ff" stroke="#0053ff" stroke-width="0.6" fill-rule="evenodd" d="M35 0 37 2.5 41 1.5 74 2 89 1 138 2.5 159 1.5 187 1.5 205 3 208 4 208 5 208 18 207 20 204 21.5 195 21.5 187 23 160 21 138 15 110 23 88 24 75 25.5 60 26 0 25.5 0 23.5 31 23 34.5 22 37 18 38 7 38 5 36 5 35 3.5 34.5 0ZM80.5 2 77 3 76.5 4 78.5 14 79 16 81 18 84 19.5 87 19.5 109 19 113 18 123 14 129 11 132.5 8 134 4 131 3 116 2 89 1.5ZM155 2 143.5 3 141 4 141 5 143 8.5 146 11.5 151 14 160 17 188 19 191 17 193 14 194 5 194 4 193.5 3 187 2ZM254 1 266 0 254 1.5 251.5 2 250 3 251.5 10 254 15 256 15.5 275 15 275 18.5 255 18.5 253 18 251 17 249 12 248 4 248 3 250 2Z"/><path fill="#0088ff" stroke="#0088ff" stroke-width="0.6" fill-rule="evenodd" d="M36 0 38 1 74 1 89 0.5 138 1.5 187 1 199 1.5 210.5 3 213.5 4 213.5 18 213 20 211.5 21 207 22.5 204 23.5 195 23.5 188 25.5 160 24 138 17.5 109 25.5 88 26.5 75 28 61 28.5 0 28 0 25.5 61 26 75 25.5 88 24 109 23 138 15 160 21 187 23 195 21.5 204 21.5 207 20 208 18 208 5 208 4 205 3 187 1.5 159 1.5 138 2.5 89 1 74 2 41 1.5 37 2.5 35.5 1 35.5 0ZM253 0.5 262 0 254 1 250 2 248 3 248 5 249 11 251 17 253 18 255 18.5 275 18.5 275 20.5 254 20.5 249.5 20 247.5 19 246 16 245.5 4 248.5 2Z"/><path fill="#00b9ff" stroke="#00b9ff" stroke-width="0.6" fill-rule="evenodd" d="M37 0 138 0.5 188 0.5 198 0.5 203 2 218 3 244 3 254 0 258 0 248.5 2 245.5 4 246 16 247 18.5 249 20 253 20.5 275 20.5 275 22 226 22 215 23.5 204 25.5 195 25.5 187 28 160 27 138 20 110 27.5 88 28.5 75 30.5 60 31 0 30.5 0 28 61 28.5 75 28 88 26.5 109 25.5 138 17.5 160 24 188 25.5 195 23.5 204 23.5 207 22.5 211.5 21 213 20 213.5 18 213.5 4 210.5 3 199 1.5 187 1 138 1.5 89 0.5 74 1 38 1 37 0.5Z"/><path fill="#00e1ff" stroke="#00e1ff" stroke-width="0.6" fill-rule="evenodd" d="M39 0 198.5 0 204 1.5 218 2 244 2 253 0 254.5 0 245 2.5 242 3 215 3 203 2 198 0.5 188 0.5 138 0.5 38.5 0ZM134 21 139 20 160 27 187 28 195 25.5 204 25.5 215 23.5 226 22 275 22 275 23.5 225 23.5 215 24.5 204 27 195 27.5 187 30 160 29 138 22.5 110 29.5 88 30.5 75 32.5 60 33 0 32.5 0 30.5 61 31 75 30.5 88 28.5 109 27.5Z"/><path fill="#00fff1" stroke="#00fff1" stroke-width="0.6" fill-rule="evenodd" d="M199 0 204 1.5 218 2 244 2 253 0 245 2 242 2 216 2 205 1.5 201 1 198.5 0ZM136 22.5 139 22.5 160 29 187 30 195 27.5 204 27 215 24.5 226 23.5 275 23.5 275 24 225 24 215 25.5 204 28 195 28.5 187 31 160 30 138 23.5 110 30.5 88 32 75 34 60 34.5 0 34 0 32.5 60 33 75 32.5 88 30.5 110 29.5Z"/><path fill="#00ffb8" stroke="#00ffb8" stroke-width="0.6" fill-rule="evenodd" d="M201 0 205 1 243 1.5 251.5 0 246 1.5 243 2 205 1.5 202 1 200 0ZM137 23.5 139 24 160 30 187 31 195 28.5 204 28 215 25.5 225 24 275 24 275 24.5 226 24.5 215 26 204 29 195 29 187 32 160 31 138 24.5 110 31.5 88 32.5 75 34.5 60 35 0 34.5 0 34 60 34.5 75 34 88 32 110 30.5Z"/><path fill="#00ff80" stroke="#00ff80" stroke-width="0.6" fill-rule="evenodd" d="M201 0 205 1 218 1 244 1 250 0 245 1.5 242 1.5 205 1ZM136 25 139 24.5 160 31 187 32 195 29 204 29 215 26 226 24.5 275 24.5 275 25 226 25 215 26.5 204 29.5 195 29.5 187 32.5 160 31.5 138 25.5 110 32 88 33.5 75 35 60 35.5 0 35.5 0 34.5 60 35 75 34.5 88 32.5 110 31.5Z"/><path fill="#00ff40" stroke="#00ff40" stroke-width="0.6" fill-rule="evenodd" d="M202 0 218 0.5 244 0.5 248.5 0 245 1 242 1 206 1ZM135 26 139 25.5 160 31.5 187 32.5 195 29.5 204 29.5 215 26.5 226 25 275 25 275 25.5 225 25.5 215 27 204 30 195 30.5 187 33 160 32 138 26 110 33 88 34 75 36 60 36.5 0 36 0 35.5 60 35.5 75 35 88 33.5 110 32Z"/><path fill="#00ff00" stroke="#00ff00" stroke-width="0.6" fill-rule="evenodd" d="M203 0 218 0 247 0 242 0.5 214 0.5ZM223 26 275 25.5 275 26 226 26 215 27.5 204 30.5 195 31 187 33.5 160 32.5 138 27 110 33.5 88 34.5 75 36.5 60 37 0 37 0 36 60 36.5 75 36 88 34 110 33 138 26 160 32 187 33 195 30.5 204 30 215 27Z"/><path fill="#00ff00" stroke="#00ff00" stroke-width="0.6" fill-rule="evenodd" d="M204 0 205 0 246 0 242 0ZM138 27 160 32.5 187 33.5 195 31 204 30.5 215 27.5 226 26 275 26 275 27 224.5 27 216 28 204 31.5 195 32 187 34.5 160 33.5 138 28 110 34.5 88 35.5 75 37.5 0 38 0 37 60 37 75 36.5 88 34.5 110 33.5Z"/><path fill="#00ff00" stroke="#00ff00" stroke-width="0.6" fill-rule="evenodd" d="M225 27 275 27 275 28 245 28 225 30.5 215 36.5 203.5 46 198 57 197 63 142.5 63 146.5 47 146.5 44 145.5 42 144 41 138 40.5 132 41 130.5 42 129.5 44 129.5 47 133.5 63 63.5 63 61.5 57 60 53.5 39 46.5 20 52.5 4 60.5 3 63 0 63 0 38 75 37.5 88 35.5 110 34.5 138 28 160 33.5 187 34.5 195 32 204 31.5 216 28Z"/><path fill="#00ff00" stroke="#00ff00" stroke-width="0.6" fill-rule="evenodd" d="M245 28 275 28 275 28.5 245 28.5 226 31 215 37.5 204 46.5 198.5 58 197.5 63 197 63 198 57 203 47 205 44.5 215 36.5 226 30ZM133 41 142 41 145 41.5 146 43 146.5 45 146.5 47 142.5 63 139.5 63 143.5 48 144 45 142 43.5 138 43 134 43.5 132 45 132.5 48 136.5 63 133.5 63 129.5 45 130 43 130.5 42ZM38 46.5 40 47 60 53.5 61.5 57 63.5 63 62.5 63 61 57 59 54.5 39 48 20 54 5 61.5 4 63 3 63 4 60.5 20 52.5Z"/><path fill="#00ff00" stroke="#00ff00" stroke-width="0.6" fill-rule="evenodd" d="M242 29 246 28.5 275 28.5 275 29 245 29 226 31.5 214 38.5 204 47.5 199.5 57 198 63 197.5 63 198.5 58 203.5 47 214 38 226 31ZM133 44 135 43.5 141 43.5 143 44 144 45 143.5 48 139.5 63 136.5 63 132 47 132 45ZM36 49 40 48.5 59 54.5 61 57 62.5 63 62 63 60.5 58 59 56 39 49.5 20 55 5 63 4 63 5 61.5 20 54Z"/><path fill="#4bff00" stroke="#4bff00" stroke-width="0.6" fill-rule="evenodd" d="M245 29 275 29 245 29.5 226 31.5 215 38.5 204 48 199.5 58 198 63 199 58 203.5 48 214 38.5 226 31.5ZM37 50 40 49.5 59 56 60.5 58 62 63 61.5 63 60 58 59 57 39 50.5 21 56 7.5 63 5 63 20 55Z"/><path fill="#96ff00" stroke="#96ff00" stroke-width="0.6" fill-rule="evenodd" d="M239 30 246 29 275 29 245 29.5 226 32 215 39 204.5 48 200.5 56 198.5 63 199.5 58 204 48 214 39 226 31.5ZM38 51 40 51 59 57 60 58 61.5 63 61 63 60 59.5 59 58.5 39 52 20 58 10 63 7.5 63 20 56.5Z"/><path fill="#c5ff00" stroke="#c5ff00" stroke-width="0.6" fill-rule="evenodd" d="M242 30 246 29.5 275 29.5 245 30 226 32.5 215 39 205 48 202.5 52 198.5 63 199.5 59 204 48.5 215 39 226 32ZM39 52 59 58.5 60 59.5 61 63 60.5 63 60 61 59 60 39 53 20.5 59 12.5 63 10 63 20 58Z"/><path fill="#f3ff00" stroke="#f3ff00" stroke-width="0.6" fill-rule="evenodd" d="M244 30 275 30 245 30 226 32.5 215 39.5 205 48.5 203 52 199 63 200 59 204 49 215 39 226 32.5ZM36 54 40 53.5 58 59.5 60 61 60.5 63 60 63 59 61.5 57.5 61 39 55 22 60 16 63 12.5 63 20.5 59Z"/><path fill="#ffe100" stroke="#ffe100" stroke-width="0.6" fill-rule="evenodd" d="M238 31 246 30 275 30 245 30.5 226 33 215 40 205 48.5 203 52 199 63 204 49.5 214.5 40 226 32.5ZM39 55 58 61 59 61.5 60 63 55 63 39 57.5 21 63 16 63 22 60Z"/><path fill="#ffb900" stroke="#ffb900" stroke-width="0.6" fill-rule="evenodd" d="M240 31 246 30.5 275 30.5 245 30.5 226 33 215 40.5 205 49 204 51 199 63 204 50 215 40 226 33ZM37 58 40 57.5 55 63 47.5 63 39 60 29 63 21 63Z"/><path fill="#ff8b00" stroke="#ff8b00" stroke-width="0.6" fill-rule="evenodd" d="M242 31 246 30.5 275 30.5 245 31 226 33.5 215 40.5 205 49.5 204 51 199.5 63 204 50.5 215.5 40 226 33ZM39 60 47.5 63 29 63 32 62Z"/><path fill="#ff5600" stroke="#ff5600" stroke-width="0.6" fill-rule="evenodd" d="M245 31 275 31 275 31.5 245 31.5 226 34 215 41 205 50.5 199.5 63 204 51 216 40 226 33.5ZM38 63 39 62.5 40 63 37.5 63Z"/><path fill="#ff1e00" stroke="#ff1e00" stroke-width="0.6" fill-rule="evenodd" d="M240 32 246 31.5 275 31.5 275 32 245 32 227 34 216 41 205 51 200.5 63 200 63 204.5 51 215 41 226 34Z"/><path fill="#ff0000" stroke="#ff0000" stroke-width="0.6" fill-rule="evenodd" d="M243 32 275 32 275 63 200.5 63 205 51 216 41 227 34Z"/></g>
<g transform="translate(473 326.5)"><path fill="#0000ff" stroke="#0000ff" stroke-width="0.6" fill-rule="evenodd" d="M1 0 22 0 24 2 22 8 20 10.5 19 11 0 11 0 0ZM261 1 269 0 274 0 274 9.5 254 9.5 252.5 6 252 3 252.5 2 254 1.5ZM50 2 60 2 66 3 66 4 62.5 8 58 11.5 51 12 50 11.5 48 9.5 45 4 45 3ZM150 2 161 2 165.5 3 164 5 160 7.5 152 7.5 150 6.5 149 4.5 148.5 3Z"/><path fill="#0023ff" stroke="#0023ff" stroke-width="0.6" fill-rule="evenodd" d="M22 0 23.5 0 28.5 2 28.5 3 27.5 14 26.5 17 25 19 23 20.5 20 21.5 0 21.5 0 11 18 11 20 10.5 22 7.5 23.5 3 24 2ZM253 1 269 0 252.5 2 252 3 253 8 254 9.5 255 9.5 274 9.5 274 18 254 18 253 17 252 13 250.5 3 251 2ZM43 2 57 1.5 70 2 76.5 3 77 4 75 11 72.5 14 70 16 65 19 58 21.5 50 22 46.5 21 44 19.5 42.5 18 41 15 40 9 39.5 3ZM49.5 2 45 3 45 4 48 9.5 50 11.5 51 12 58 11.5 62.5 8 66 4 66 3 60 2ZM148 2 158 1.5 169.5 2 174 3 174 4 172.5 9 171 11 169 12 163 13.5 152 13.5 150 13 149 12 147 8 146 3ZM150 2 148.5 3 149 4.5 150 6.5 152 7.5 160 7.5 164 5 165.5 3 161 2Z"/><path fill="#0053ff" stroke="#0053ff" stroke-width="0.6" fill-rule="evenodd" d="M24 0 31 1.5 37 1.5 57 1 80 2 144 2 150 1 158 1 198 2.5 200 3 200.5 4 200.5 18 200 19.5 199 20 176 18 152 17.5 150 17 146 13 144 12.5 111 12.5 109 13 103 16 99 16 80 20 58 25.5 0 25.5 0 21.5 20 21.5 23 20.5 25 19 26.5 17 27.5 14 28.5 3 28.5 2ZM42.5 2 39.5 3 39.5 4 40 11 41.5 16 43 18.5 44.5 20 50 22 58 21.5 65 19 70 16 72.5 14 75 11 77 4 76.5 3 70 2 54 1.5ZM147.5 2 146 3 146 4 147 9 150 13 152 13.5 163 13.5 169 12 171 11 172.5 9 174 4 174 3 169.5 2 156 1.5 151 1.5ZM252 1 264.5 0 253 1 251 2 250.5 4 252 12 253 17 254 18 274 18 274 22 254 22 252 21 251 18 249 4 249 3 250 2Z"/><path fill="#0088ff" stroke="#0088ff" stroke-width="0.6" fill-rule="evenodd" d="M26 0 38 1 57 0.5 80 1 144 1 150 0.5 158 0.5 198 1.5 200 2 203 4 203 21 202 23 201 23 176 21 152 20.5 150 20 145 15.5 127 14.5 110 15.5 103 21 80 22 58 27 0 27 0 25.5 58 25.5 80 20 99 16 103 16 109 13 111 12.5 144 12.5 146 13 150 17 152 17.5 176 18 199 20 200 19.5 200.5 18 200.5 4 200 3 198 2.5 158 1 150 1 144 2 80 2 57 1 37 1.5 30 1.5 25.5 0ZM251 1 254 0 260.5 0 253 0.5 250 2 249 3 250.5 17 251.5 20 252 21 254 22 274 22 274 24 254 24 252 23 250.5 22 249 19 247.5 4 247.5 3 248.5 2Z"/><path fill="#00b9ff" stroke="#00b9ff" stroke-width="0.6" fill-rule="evenodd" d="M28 0 80 0.5 159 0 198 0.5 204 3 217 4 220 5 220.5 23 220 24 218 25.5 210 26.5 204 26.5 198 25 177 24 152 23.5 150 23 145 18.5 127 17.5 110 18.5 103 24.5 80 25.5 58 29 0 29 0 27 58 27 80 22 103 21 110 15.5 126 14.5 145 15.5 150 20 152 20.5 176 21 201 23 202 23 203 21 203 4 200 2 198 1.5 158 0.5 150 0.5 144 1 80 1 57 0.5 38 1 30 0.5 27.5 0ZM250 1 253 0 256 0 251 1 248.5 2 247.5 3 249 19 250.5 22 252 23 254 24 274 24 274 25.5 253 25.5 249 23.5 247 20 246 4 247.5 2Z"/><path fill="#00e1ff" stroke="#00e1ff" stroke-width="0.6" fill-rule="evenodd" d="M30 0 198.5 0 204 2.5 217 3 224 4 225.5 5 225.5 24 224.5 26 212 27.5 176 27.5 151 26.5 145 21.5 127 20.5 110 21.5 103 27 61 31 0 31 0 29 57 29 80 25.5 102 24.5 104 24 110 18.5 127 17.5 145 18.5 150 23 152 23.5 177 24 198 25 204 26.5 210 26.5 218 25.5 220 24 220.5 23 220 5 217 4 204 3 198 0.5 159 0 80 0.5 29.5 0ZM249 1 253 0 247.5 2 246 4 247 20 249 23.5 253 25.5 274 25.5 274 26.5 253 26.5 248 26 246 25.5 245 24 244.5 21 244 4 246 2Z"/><path fill="#00fff1" stroke="#00fff1" stroke-width="0.6" fill-rule="evenodd" d="M199 0 200 0 202 1.5 204 2 228 3.5 243 2.5 250.5 0 251.5 0 246 2 244 4 244.5 20 245.5 25 247 26 251 26.5 274 26.5 274 27.5 228 27.5 211 28.5 176 29.5 151.5 28 150 27.5 145 23 127 22 110 23 103 28.5 79 31.5 58 32.5 0 32 0 31 58 31 84 29 103 27 110 21.5 127 20.5 145 21.5 150 26 152 26.5 177 27.5 210 28 219.5 27 225 25.5 226 23 225.5 5 224 4 217 3 203 2.5 198.5 0Z"/><path fill="#00ffb8" stroke="#00ffb8" stroke-width="0.6" fill-rule="evenodd" d="M200 0 204 1.5 228 2.5 243 2 250.5 0 243 2.5 228 3.5 204 2 202 1.5ZM111 23 128 22 144 23 146 23.5 151 28 176 29.5 211 28.5 228 27.5 274 27.5 274 28 227 28 176 30.5 160 29 151 29 145 24 127 23 110 24 103 29 99 29.5 79 33 58 33 0 33 0 32 58 32.5 80 31.5 103 28.5 104 28 109 23.5Z"/><path fill="#00ff80" stroke="#00ff80" stroke-width="0.6" fill-rule="evenodd" d="M201 0 204 1 227 2 243 1.5 249 0 244 2 228 2.5 204 1.5 202 1ZM111 24 128 23 144 24 146 24.5 151 29 160 29 176 30.5 227 28 274 28 274 28.5 227 29 204 30 198 30.5 176 32 160 30 151 30 145 25 127 24 110 25 103 29.5 99 30 79 34 0 33.5 0 33 58 33 80 32.5 99 29.5 103 29 109 24.5Z"/><path fill="#00ff40" stroke="#00ff40" stroke-width="0.6" fill-rule="evenodd" d="M202 0 205 1 227 1.5 243 1 248 0 243 1.5 227 2 204 1 201.5 0ZM111 25 128 24 144 25 146 25.5 151 30 160 30 176 32 198 30.5 204 30 227 29 274 28.5 274 29 226 29.5 204 30.5 198 31.5 176 33 160 31 151 31 146 26.5 144 26 127 25 110 26 103 30 98 30.5 79 35.5 50 34.5 0 34.5 0 33.5 80 34 99 30 103 29.5 109 25.5Z"/><path fill="#00ff00" stroke="#00ff00" stroke-width="0.6" fill-rule="evenodd" d="M203 0 227 1 246.5 0 243 1 227 1.5 205 1 202 0ZM111 26 128 25 144 26 146 26.5 151 31 160 31 176 33 198 31.5 204 30.5 227 29.5 274 29 274 29.5 227 30 204 31 198 32.5 176 34.5 160 32 151 32 146 27.5 144 27 127 26 110 27 104 30.5 99 31 79 36.5 51 35.5 0 35.5 0 34.5 50 34.5 79 35.5 98 30.5 103 30 109 26.5Z"/><path fill="#00ff00" stroke="#00ff00" stroke-width="0.6" fill-rule="evenodd" d="M203 0 227 0 245 0 243 0.5 227 1ZM111 27 128 26 144 27 146 27.5 151 32 160 32 176 34.5 198 32.5 204 31 224.5 30 274 29.5 274 30 227 31 204 32 198 33.5 176 36 160 33.5 151 33 146 29 144 28 127 27.5 110 28.5 104 31.5 98.5 32 79 38 57 36.5 0 36.5 0 35.5 50 35.5 80 36.5 99 31 104 30.5 109 27.5Z"/><path fill="#00ff00" stroke="#00ff00" stroke-width="0.6" fill-rule="evenodd" d="M226 0 227 0 229.5 0 227 0 226 0ZM113 28 128 27.5 144 28 146 29 151 33 160 33.5 176 36 198 33.5 203 32 218.5 31 274 30 274 32 253 32 227 33 216 36.5 211 40 199 45.5 178 47 160 44 152 44 150 42.5 147.5 37 145 34 128 32 111 33.5 108.5 35 103 42 98 42.5 80 46.5 58 44 49 41.5 38 40 31 40.5 19.5 43 0 46 0 36.5 57 36.5 79 38 98.5 32 104 31.5 109 28.5Z"/><path fill="#00ff00" stroke="#00ff00" stroke-width="0.6" fill-rule="evenodd" d="M126 32 128 32 145 34 147.5 37 150 42.5 152 44 160 44 177 47 199 45.5 211 40 216 36.5 227 33 254 32 274 32 274 33 253 33 227 34 216 37.5 211 41 199 47 177 49.5 160 45.5 151 45 145 35.5 128 33 110 35.5 103 43 99 43.5 80 49 59 46 49 43 38 41 0 47.5 0 46 19.5 43 31 40.5 38 40 49 41.5 58 44 80 46.5 98 42.5 103 42 108.5 35 110 34Z"/><path fill="#00ff00" stroke="#00ff00" stroke-width="0.6" fill-rule="evenodd" d="M253 33 274 33 274 33.5 253 33.5 227 34.5 216 38 211 41.5 203 45.5 199 48.5 177 51.5 160 46.5 151 46.5 145 36.5 128 34 110 36.5 103 44.5 99 45 80 51.5 59 47 50 44 38 42 0 48.5 0 47.5 38 41 49 43 59 46 80 49 99 43.5 103 43 110 35.5 128 33 145 35.5 151 45 160 45.5 177 49.5 199 47 211 41 216 37.5 227 34Z"/><path fill="#4bff00" stroke="#4bff00" stroke-width="0.6" fill-rule="evenodd" d="M245 34 253 33.5 274 33.5 274 34 253 34 227 35 216 39 211 42 203.5 46 199 50 177 54 160 48 151 47.5 149.5 46 146 39 144 37.5 128 35 110 37.5 103 45.5 99 46 80 54 59 48.5 49 45 38 42.5 0 49.5 0 48.5 38 42 50 44 59 47 80 51.5 99 45 103 44.5 110 36.5 128 34 145 36.5 151 46.5 160 46.5 177 51.5 199 48.5 203 45.5 211 41.5 216 38 227 34.5Z"/><path fill="#96ff00" stroke="#96ff00" stroke-width="0.6" fill-rule="evenodd" d="M252 34 274 34 274 34.5 253 34.5 227 35.5 217 39 211 42.5 204 46.5 200 51 198 52 177 56.5 175 56 160 49 151 48.5 149.5 47 146 40 144 38.5 128 36 110 39 104 46 103 46.5 99 47 80 56.5 59 50 49.5 46 38 43.5 0 51 0 49.5 38 42.5 49 45 59 48.5 80 54 99 46 103 45.5 110 37.5 128 35 144 37.5 146 39 149.5 46 151 47.5 160 48 177 54 199 50 203.5 46 211 42 216 39 226 35.5Z"/><path fill="#c5ff00" stroke="#c5ff00" stroke-width="0.6" fill-rule="evenodd" d="M239 35 253 34.5 274 34.5 274 34.5 253 35 227 36 217 39.5 204 47 200 52.5 198 54 177 59 175 58.5 160 50.5 151 49.5 149.5 48 145 40 128 37 110 40 104 47.5 99 48.5 80 59 78 58.5 59 51.5 49.5 47 38 44.5 0 52 0 51 38 43.5 49.5 46 59 50 80 56.5 99 47 103 46.5 104 46 110 39 128 36 144 38.5 146 40 149.5 47 151 48.5 160 49 175 56 177 56.5 198 52 200 51 204 46.5 211 42.5 216 39.5 219.5 38 227 35.5Z"/><path fill="#f3ff00" stroke="#f3ff00" stroke-width="0.6" fill-rule="evenodd" d="M249 35 274 34.5 274 35 253 35 227 36.5 216 40.5 204 47.5 202.5 49 200 54 198 55.5 177 62 175 61.5 160 52 151 51.5 149 49 146 43 144 41.5 128 38.5 110 41.5 104 49 99 50 80 62 78 61.5 59 53.5 50 49 38 45.5 0 54 0 52 38 44.5 49.5 47 59 51.5 78 58.5 80 59 99 48.5 104 47.5 110 40 128 37 145 40 149.5 48 151 49.5 160 50.5 175 58.5 177 59 198 54 200 52.5 204 47 211 43.5 216 40 226 36Z"/><path fill="#ffe100" stroke="#ffe100" stroke-width="0.6" fill-rule="evenodd" d="M233 36 253 35 274 35 274 35.5 253 35.5 226 37 216 41 204.5 48 203 49.5 200 55.5 198 58 184 64 172 64 160 55.5 151 53.5 145 44.5 128 40 110 44.5 104 51 99 52 84 64 72.5 64 58 57 50 51.5 38 47.5 30 49.5 0 57.5 0 54 38 45.5 50 49 59 53.5 78 61.5 80 62 99 50 104 49 110 41.5 128 38.5 144 41.5 146 43 149 49 151 51.5 160 52 175 61.5 177 62 198 55.5 200 54 202.5 49 204 47.5 216 40.5 227 36.5Z"/><path fill="#ffb900" stroke="#ffb900" stroke-width="0.6" fill-rule="evenodd" d="M246 36 274 35.5 274 36 253 36 227 37 216 41.5 204 49 202.5 51 199 59 198 60 191 64 184 64 198 58 199 57 202.5 50 204 48.5 217 40.5 227 36.5ZM123 41 128 40 144 44 146 45.5 149.5 52 151 53.5 160 55.5 172 64 166.5 64 159 58 151 56 146 48.5 144 47 128 42 110 47 104 53.5 100 54 98.5 55 88.5 64 84 64 99 52 104 51 110 44.5ZM36 48 39 48 50 51.5 58 57 72.5 64 63.5 64 58 61 50 54 38 50 30 52 0 61 0 57.5Z"/><path fill="#ff8b00" stroke="#ff8b00" stroke-width="0.6" fill-rule="evenodd" d="M253 36 274 36 274 36.5 253 36.5 228 37.5 226 38 216 42 205 49.5 203 51.5 200 59 198 62 195.5 64 191 64 199 59 202.5 51 204 49 217 41 228 37ZM127 42 129 42 145 47.5 151 56 159 58 166.5 64 162 64 159 61.5 151 58.5 145 50 128 43.5 126 44 110 50 104 55.5 99 57 92.5 64 88.5 64 98.5 55 100 54 104 53.5 110 47ZM34 51 38 50 49 53.5 58 61 63.5 64 56.5 64 50 57 38 52.5 30 54.5 3.5 64 0 64 0 61Z"/><path fill="#ff5600" stroke="#ff5600" stroke-width="0.6" fill-rule="evenodd" d="M241 37 274 36.5 274 37 253 37 227 38 216 43 205 50 203 52.5 198.5 64 195.5 64 199 61 202.5 52 204 50 216 42 227 37.5ZM126 44 129 44 144 49.5 146 51.5 151 58.5 159 61.5 162 64 157 64 151 61 145 53 128 45.5 126 46 111 52.5 104 58 100 58.5 99 59.5 95 64 92.5 64 99 57 104 55.5 110 50ZM35 53 37 52.5 39 52.5 49 56.5 51 58 56.5 64 53.5 64 49 59 38 54.5 30 57 13 64 3.5 64Z"/><path fill="#ff1e00" stroke="#ff1e00" stroke-width="0.6" fill-rule="evenodd" d="M251 37 274 37 274 37.5 253 37.5 226 39 217 43 205 51 203 54 199.5 64 198.5 64 204 51 216 43 227.5 38ZM126 46 129 46 144 52.5 146 54 151 61 157 64 151 64 145 56 128 47.5 126 48 111 55.5 104 60.5 100 61 97.5 64 95 64 100 58.5 104 58 110 53ZM36 55 39 55 49 59 53.5 64 51 64 49 62 38 57 30 59.5 21 64 13 64 29 57.5Z"/><path fill="#ff0000" stroke="#ff0000" stroke-width="0.6" fill-rule="evenodd" d="M242 38 274 37.5 274 64 199.5 64 204 52 215.5 44 227 38.5ZM126 48 128 47.5 129 47.5 144 55.5 146 57 151 64 97.5 64 100 61 104 60.5 110 56ZM37 57 39 57 48 61.5 50 62.5 51 64 21 64 30 59.5Z"/></g>
<g stroke="#777" stroke-width="1" fill="none">
<rect x="36.5" y="5.5" width="339.0" height="78.0"/>
<path d="M36.5 5.5L68 12M375.5 5.5L343 12M36.5 83.5L68 75.5M375.5 83.5L343 75.5"/>
</g>
<text x="38.0" y="80.0" font-size="11.5" fill="#111">a)</text>
<g stroke="#777" stroke-width="1" fill="none">
<rect x="34.5" y="154.5" width="339.0" height="78.0"/>
<path d="M34.5 154.5L66 161M373.5 154.5L341.5 161M34.5 232.5L66 224.5M373.5 232.5L341.5 224.5"/>
</g>
<text x="36.0" y="229.0" font-size="11.5" fill="#111">b)</text>
<g stroke="#777" stroke-width="1" fill="none">
<rect x="34.5" y="246.5" width="339.0" height="79.0"/>
<path d="M34.5 246.5L66 253.5M373.5 246.5L341.5 253.5M34.5 325.5L66 317M373.5 325.5L341.5 317"/>
</g>
<text x="36.0" y="322.0" font-size="11.5" fill="#111">c)</text>
<g stroke="#777" stroke-width="1" fill="none">
<rect x="34.5" y="348.5" width="339.0" height="79.0"/>
<path d="M34.5 348.5L66 355.5M373.5 348.5L341.5 355.5M34.5 427.5L66 419M373.5 427.5L341.5 419"/>
</g>
<text x="36.0" y="424.0" font-size="11.5" fill="#111">d)</text>
<g stroke="#777" stroke-width="1" fill="none">
<rect x="440" y="26" width="339.5" height="78.5"/>
<path d="M440 26L472 32.5M779.5 26L747 32.5M440 104.5L472 96.5M779.5 104.5L747 96.5"/>
</g>
<text x="441.5" y="101.0" font-size="11.5" fill="#111">e)</text>
<g stroke="#777" stroke-width="1" fill="none">
<rect x="439.5" y="124.5" width="340.0" height="79.0"/>
<path d="M439.5 124.5L472 131.5M779.5 124.5L747 131.5M439.5 203.5L472 195.5M779.5 203.5L747 195.5"/>
</g>
<text x="441.0" y="200.0" font-size="11.5" fill="#111">f)</text>
<g stroke="#777" stroke-width="1" fill="none">
<rect x="440.5" y="232.5" width="339.0" height="78.0"/>
<path d="M440.5 232.5L472 239.5M779.5 232.5L747 239.5M440.5 310.5L472 302.5M779.5 310.5L747 302.5"/>
</g>
<text x="442.0" y="307.0" font-size="11.5" fill="#111">g)</text>
<g stroke="#777" stroke-width="1" fill="none">
<rect x="440.5" y="319.5" width="339.0" height="79.0"/>
<path d="M440.5 319.5L473 326.5M779.5 319.5L747 326.5M440.5 398.5L473 390.5M779.5 398.5L747 390.5"/>
</g>
<text x="442.0" y="395.0" font-size="11.5" fill="#111">h)</text>
<g stroke="#cdcdcd" stroke-width="1" fill="none">
<path d="M20.5 10.5V419"/>
<path d="M14 64H20.5"/>
<path d="M14 191.5H20.5"/>
<path d="M14 297.5H20.5"/>
<path d="M14 391.5H20.5"/>
<path d="M20.5 140.5H26.5"/>
<path d="M429.5 11.5V419.5M429.5 11.5H435.5"/>
<path d="M423 52.5H429.5"/>
<path d="M423 169.5H429.5"/>
<path d="M423 274.5H429.5"/>
<path d="M423 363.5H429.5"/>
</g>
<path d="M18 418.5L23 418.5L20.5 423Z" fill="#000"/>
<path d="M427 419.5L432 419.5L429.5 424Z" fill="#000"/>
<text x="4.5" y="66.5" font-size="12" font-weight="bold" font-style="italic" fill="#111">t<tspan font-size="7.4" font-weight="bold" font-style="normal" dx="0.1" dy="3">0</tspan></text>
<text x="4.5" y="193.5" font-size="12" font-weight="bold" font-style="italic" fill="#111">t<tspan font-size="7.4" font-weight="bold" font-style="normal" dx="0.1" dy="3">1</tspan></text>
<text x="4.5" y="299.5" font-size="12" font-weight="bold" font-style="italic" fill="#111">t<tspan font-size="7.4" font-weight="bold" font-style="normal" dx="0.1" dy="3">2</tspan></text>
<text x="4.5" y="393.5" font-size="12" font-weight="bold" font-style="italic" fill="#111">t<tspan font-size="7.4" font-weight="bold" font-style="normal" dx="0.1" dy="3">3</tspan></text>
<text x="413" y="55" font-size="12" font-weight="bold" font-style="italic" fill="#111">t<tspan font-size="7.4" font-weight="bold" font-style="normal" dx="0.1" dy="3">4</tspan></text>
<text x="413" y="172.5" font-size="12" font-weight="bold" font-style="italic" fill="#111">t<tspan font-size="7.4" font-weight="bold" font-style="normal" dx="0.1" dy="3">5</tspan></text>
<text x="413" y="277" font-size="12" font-weight="bold" font-style="italic" fill="#111">t<tspan font-size="7.4" font-weight="bold" font-style="normal" dx="0.1" dy="3">6</tspan></text>
<text x="413" y="366" font-size="12" font-weight="bold" font-style="italic" fill="#111">t<tspan font-size="7.4" font-weight="bold" font-style="normal" dx="0.1" dy="3">7</tspan></text>
<text x="32" y="143" font-size="11.25" fill="#1a1a1a">start of irrigation</text>
<text x="32" y="342.5" font-size="11.25" fill="#1a1a1a">stop of irrigation</text>
<text x="437.5" y="15" font-size="11.25" fill="#1a1a1a">start of irrigation</text>
<text x="457" y="221.5" font-size="11.25" fill="#1a1a1a">stop of irrigation</text>
<g font-size="7.4" fill="#222">
<text x="36" y="95.6" text-anchor="middle">0</text>
<text x="120" y="95.6" text-anchor="middle">1.2</text>
<text x="204.5" y="95.6" text-anchor="middle">2.45</text>
<text x="290" y="95.6" text-anchor="middle">3.6</text>
<text x="366.5" y="95.6" text-anchor="start">4.9 m</text>
<text x="382.5" y="7.5">0 m</text>
<text x="382.5" y="47">0.5 m</text>
<text x="382.5" y="86.5">1 m</text>
</g>
<g stroke="#aaa" stroke-width="1"><path d="M375.5 5.5H379M375.5 44.5H379M375.5 83.5H379M36.5 83.5V87M120 83.5V87M204.5 83.5V87M290 83.5V87M375.5 83.5V87"/></g>
<defs><linearGradient id="cb1" x1="0" x2="1" y1="0" y2="0"><stop offset="0" stop-color="#ff0000"/><stop offset="0.25" stop-color="#ffff00"/><stop offset="0.36" stop-color="#00ff00"/><stop offset="0.57" stop-color="#00ff00"/><stop offset="0.75" stop-color="#00ffff"/><stop offset="1" stop-color="#0000ff"/></linearGradient><linearGradient id="cb2" x1="0" x2="1" y1="0" y2="0"><stop offset="0" stop-color="#ff0000"/><stop offset="0.18" stop-color="#ff1000"/><stop offset="0.4" stop-color="#ff9000"/><stop offset="0.53" stop-color="#ffff00"/><stop offset="0.67" stop-color="#00ff00"/><stop offset="0.86" stop-color="#00ff00"/><stop offset="0.93" stop-color="#00ffff"/><stop offset="1" stop-color="#0000ff"/></linearGradient></defs>
<rect x="135" y="109" width="134" height="12" fill="url(#cb1)"/>
<g font-size="7.3" font-weight="bold" font-style="italic" fill="#1a1a90" text-anchor="middle">
<text x="136.5" y="107">400</text>
<text x="170.2" y="107">313</text>
<text x="202.3" y="107">225</text>
<text x="236.4" y="107">138</text>
<text x="268.5" y="107">50</text>
</g>
<text x="143.5" y="130.5" font-size="8.4" font-weight="bold" font-style="italic" fill="#1a1a90">electrical resistivity (Ωm)</text>
<rect x="529" y="418" width="134.5" height="12" fill="url(#cb2)"/>
<g font-size="7.3" font-weight="bold" font-style="italic" fill="#1a1a90" text-anchor="end">
<text transform="translate(533.9 404) rotate(-90)">100</text>
<text transform="translate(568.2 404) rotate(-90)">82</text>
<text transform="translate(599.3000000000001 404) rotate(-90)">65</text>
<text transform="translate(633.6 404) rotate(-90)">47</text>
<text transform="translate(666.2 404) rotate(-90)">30</text>
</g>
<text x="556" y="440" font-size="8.4" font-weight="bold" font-style="italic" fill="#1a1a90">resistivity ratio (%)</text>
<g fill="#bdbdbd" fill-opacity="0.52" stroke="#8a8a8a" stroke-width="0.7">
<rect x="532.5" y="326.5" width="41.0" height="64"/>
<rect x="580.8" y="326.5" width="40.90000000000009" height="64"/>
<rect x="636.5" y="326.5" width="40.5" height="64"/>
</g>
<g stroke="#777" stroke-opacity="0.35" stroke-width="0.6" stroke-dasharray="2 1.5">
<path d="M553 327V390"/>
<path d="M601.2 327V390"/>
<path d="M656.7 327V390"/>
</g>
<g font-size="10.5" fill="#111" text-anchor="middle">
<text x="552.4" y="324.8">P1</text>
<text x="599.3" y="324.8">P2</text>
<text x="656.4" y="324.8">P3</text>
</g>
</svg></body></html>
